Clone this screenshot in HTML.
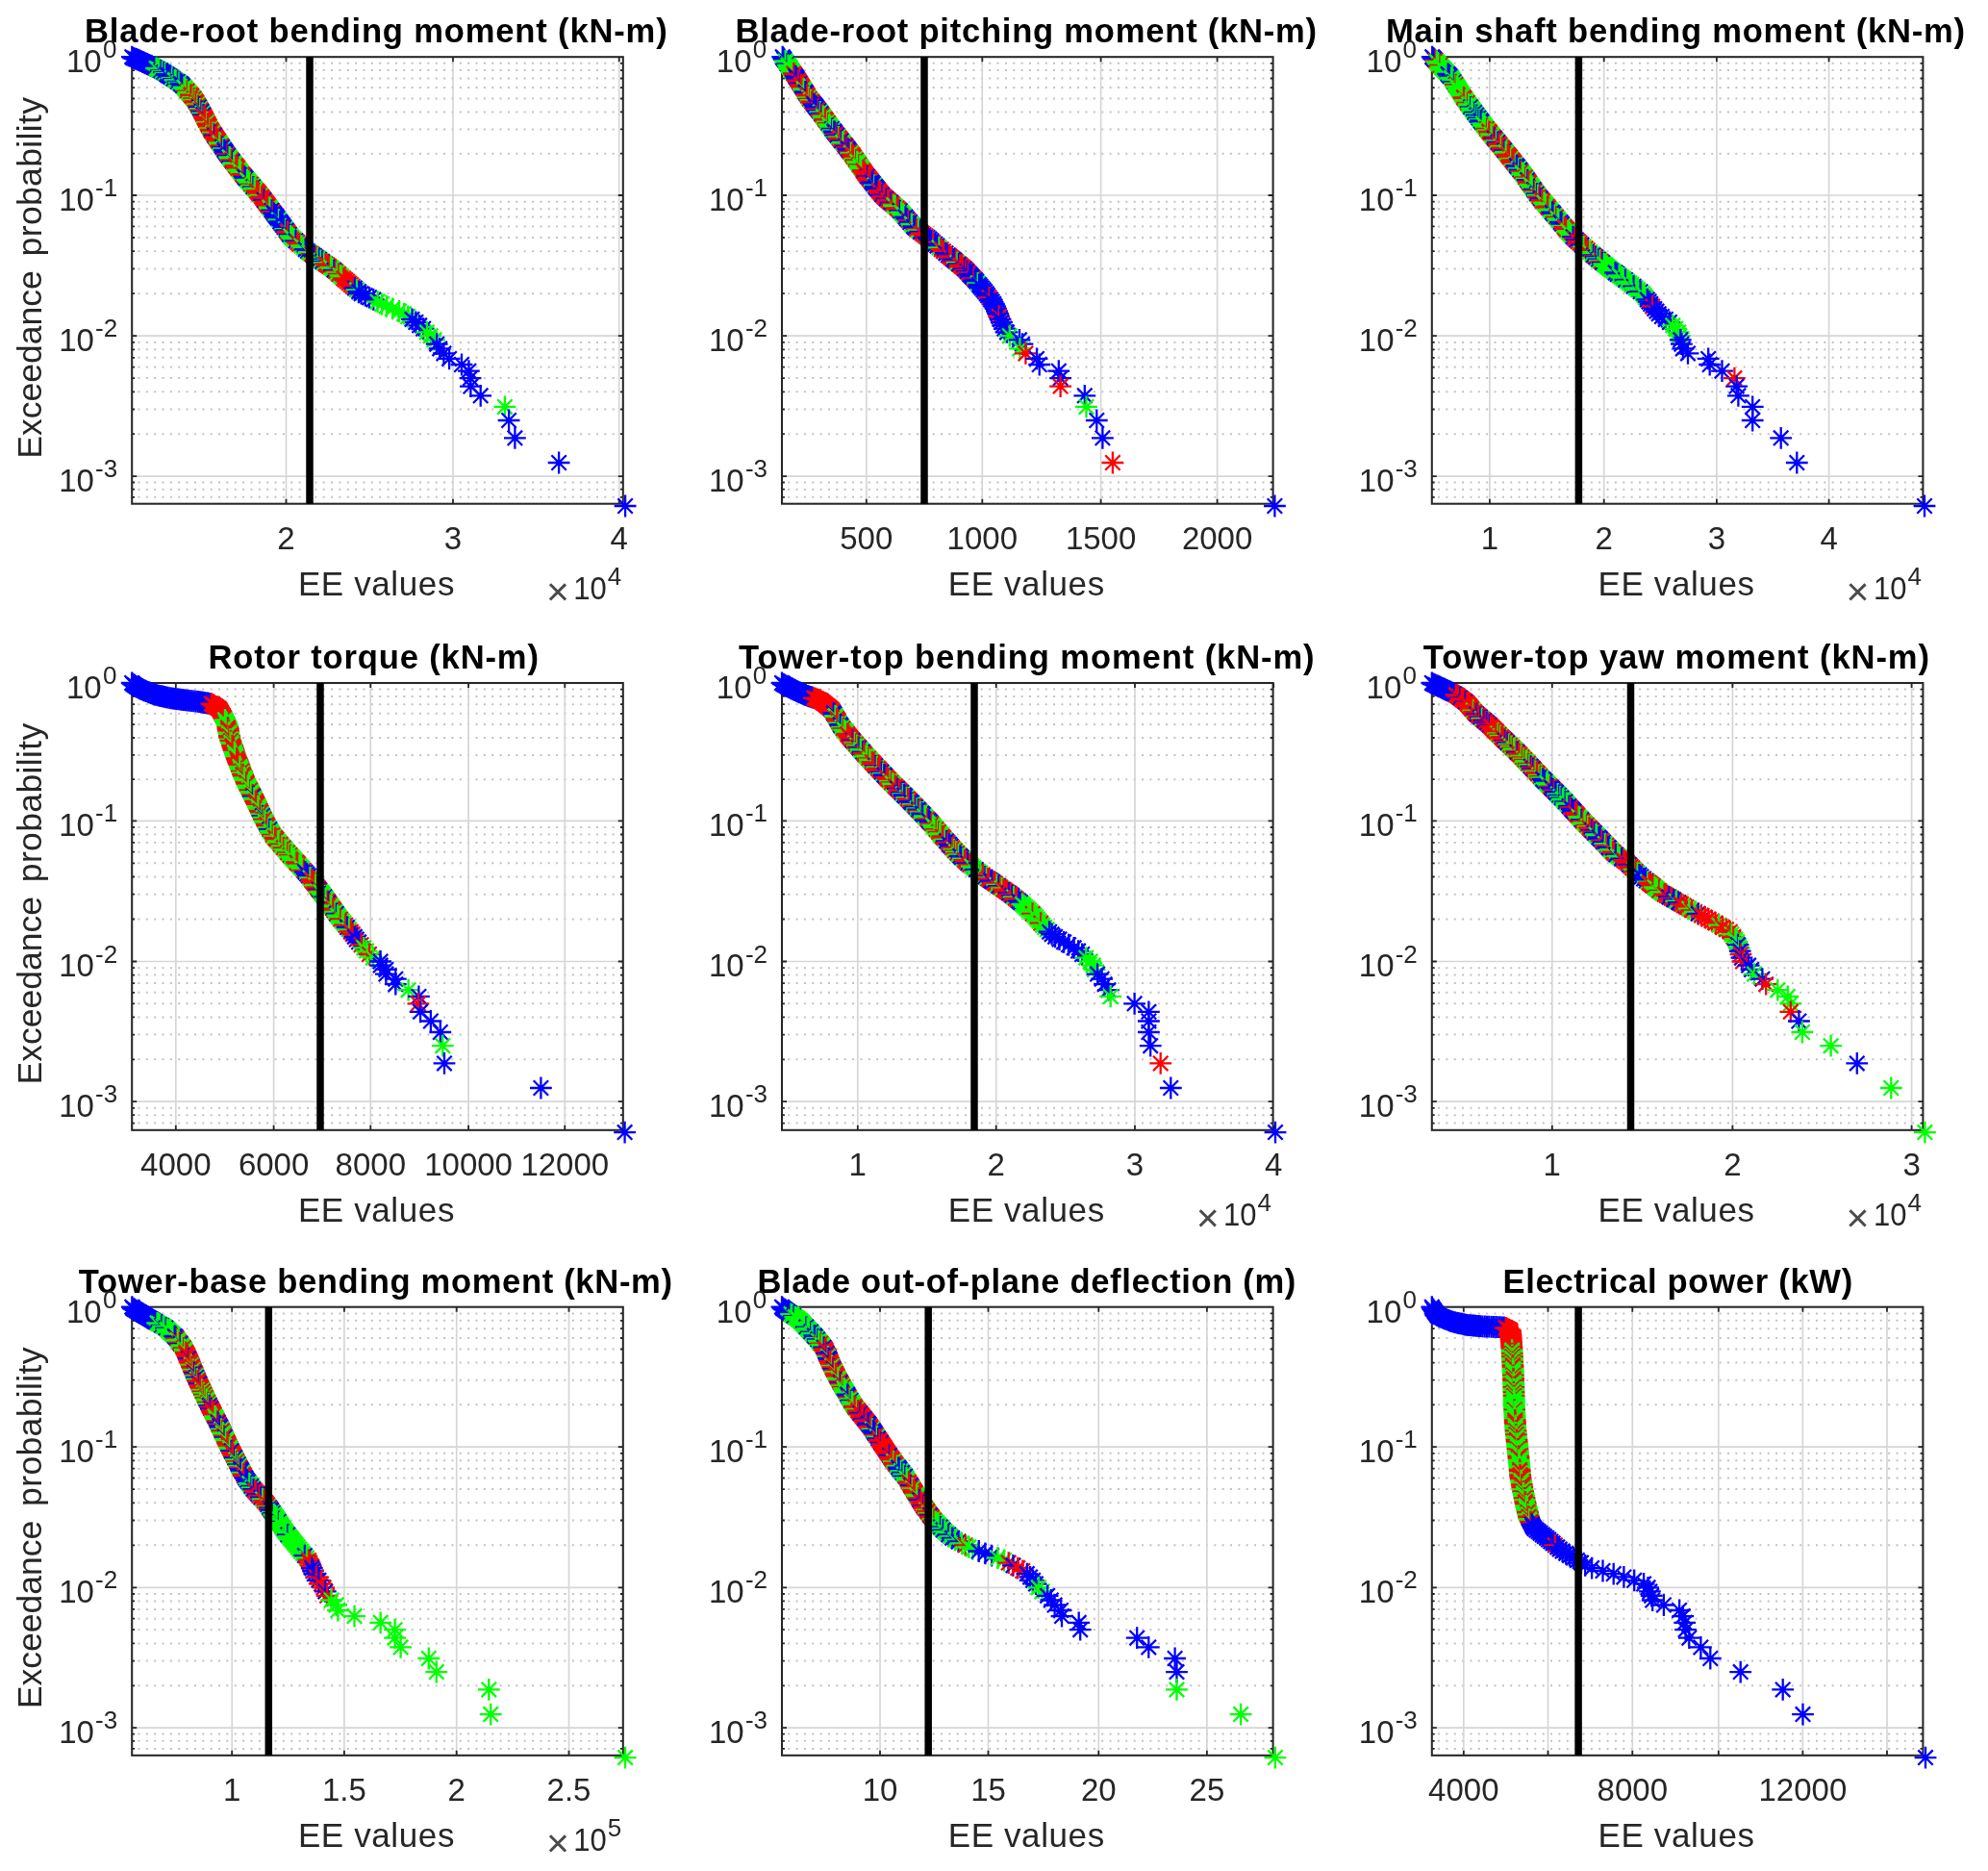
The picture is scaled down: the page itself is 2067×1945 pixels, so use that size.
<!DOCTYPE html>
<html><head><meta charset="utf-8"><title>Exceedance probability</title><style>html,body{margin:0;padding:0;background:#fff}svg{display:block;filter:blur(0.6px)}</style></head><body>
<svg width="2067" height="1945" viewBox="0 0 2067 1945" font-family="Liberation Sans, sans-serif">
<defs><path id="s" d="M-11.4 0H11.4M0-11.4V11.4M-7.7-7.7L7.7 7.7M-7.7 7.7L7.7-7.7" fill="none" stroke-width="2.3"/></defs>
<rect width="2067" height="1945" fill="#fff"/>
<g>
<path d="M143.4 159.7H644.8M143.4 134.4H644.8M143.4 116.4H644.8M143.4 102.5H644.8M143.4 91.1H644.8M143.4 81.5H644.8M143.4 73.1H644.8M143.4 65.8H644.8M143.4 305.2H644.8M143.4 279.4H644.8M143.4 261.2H644.8M143.4 247H644.8M143.4 235.4H644.8M143.4 225.6H644.8M143.4 217.2H644.8M143.4 209.7H644.8M143.4 451.2H644.8M143.4 425.5H644.8M143.4 407.3H644.8M143.4 393.1H644.8M143.4 381.6H644.8M143.4 371.8H644.8M143.4 363.3H644.8M143.4 355.9H644.8M143.4 516.8H644.8M143.4 508.7H644.8M143.4 501.5H644.8" stroke="#c2c2c2" stroke-width="2" stroke-dasharray="2 6.36" fill="none"/>
<path d="M137.2 203H647.8M137.2 349.2H647.8M137.2 495.1H647.8M297.5 59.2V523.7M471 59.2V523.7M643.7 59.2V523.7" stroke="#d6d6d6" stroke-width="1.7" fill="none"/>
<path d="M137.2 203h5M647.8 203h-5M137.2 349.2h5M647.8 349.2h-5M137.2 495.1h5M647.8 495.1h-5M137.2 159.7h2.9M647.8 159.7h-2.9M137.2 134.4h2.9M647.8 134.4h-2.9M137.2 116.4h2.9M647.8 116.4h-2.9M137.2 102.5h2.9M647.8 102.5h-2.9M137.2 91.1h2.9M647.8 91.1h-2.9M137.2 81.5h2.9M647.8 81.5h-2.9M137.2 73.1h2.9M647.8 73.1h-2.9M137.2 65.8h2.9M647.8 65.8h-2.9M137.2 305.2h2.9M647.8 305.2h-2.9M137.2 279.4h2.9M647.8 279.4h-2.9M137.2 261.2h2.9M647.8 261.2h-2.9M137.2 247h2.9M647.8 247h-2.9M137.2 235.4h2.9M647.8 235.4h-2.9M137.2 225.6h2.9M647.8 225.6h-2.9M137.2 217.2h2.9M647.8 217.2h-2.9M137.2 209.7h2.9M647.8 209.7h-2.9M137.2 451.2h2.9M647.8 451.2h-2.9M137.2 425.5h2.9M647.8 425.5h-2.9M137.2 407.3h2.9M647.8 407.3h-2.9M137.2 393.1h2.9M647.8 393.1h-2.9M137.2 381.6h2.9M647.8 381.6h-2.9M137.2 371.8h2.9M647.8 371.8h-2.9M137.2 363.3h2.9M647.8 363.3h-2.9M137.2 355.9h2.9M647.8 355.9h-2.9M137.2 516.8h2.9M647.8 516.8h-2.9M137.2 508.7h2.9M647.8 508.7h-2.9M137.2 501.5h2.9M647.8 501.5h-2.9M297.5 523.7v-5M297.5 59.2v5M471 523.7v-5M471 59.2v5M643.7 523.7v-5M643.7 59.2v5" stroke="#262626" stroke-width="1.8" fill="none"/>
<rect x="137.2" y="59.2" width="510.6" height="464.5" fill="none" stroke="#262626" stroke-width="2.05"/>
<g stroke="#0000ff"><use href="#s" x="137.3" y="59.2"/><use href="#s" x="138.7" y="60.3"/><use href="#s" x="140.3" y="60.9"/><use href="#s" x="141.9" y="61.5"/><use href="#s" x="143.6" y="62.2"/><use href="#s" x="145.2" y="62.9"/><use href="#s" x="146.8" y="63.6"/><use href="#s" x="148.4" y="64.4"/><use href="#s" x="150" y="65.1"/><use href="#s" x="151.5" y="65.8"/><use href="#s" x="153.1" y="66.6"/><use href="#s" x="154.7" y="67.3"/><use href="#s" x="156.4" y="68.1"/><use href="#s" x="157.9" y="68.8"/><use href="#s" x="159.5" y="69.5"/><use href="#s" x="161" y="70.3"/></g>
<g stroke="#00ff00"><use href="#s" x="162.6" y="71"/><use href="#s" x="164.3" y="71.8"/><use href="#s" x="165.9" y="72.6"/></g>
<g stroke="#0000ff"><use href="#s" x="167.4" y="73.3"/></g>
<g stroke="#00ff00"><use href="#s" x="168.9" y="74.2"/></g>
<g stroke="#0000ff"><use href="#s" x="170.4" y="75.2"/></g>
<g stroke="#00ff00"><use href="#s" x="171.8" y="76.2"/></g>
<g stroke="#0000ff"><use href="#s" x="173.3" y="77.2"/><use href="#s" x="174.7" y="78.2"/><use href="#s" x="176.1" y="79.1"/><use href="#s" x="177.6" y="80.1"/></g>
<g stroke="#00ff00"><use href="#s" x="179" y="81.1"/></g>
<g stroke="#0000ff"><use href="#s" x="180.5" y="82.1"/></g>
<g stroke="#00ff00"><use href="#s" x="181.9" y="83.1"/><use href="#s" x="183.4" y="84"/></g>
<g stroke="#0000ff"><use href="#s" x="184.9" y="85"/></g>
<g stroke="#00ff00"><use href="#s" x="186.4" y="86"/></g>
<g stroke="#0000ff"><use href="#s" x="187.8" y="87"/><use href="#s" x="189.2" y="88.1"/><use href="#s" x="190.3" y="89.4"/></g>
<g stroke="#00ff00"><use href="#s" x="191.5" y="90.7"/><use href="#s" x="192.6" y="92"/><use href="#s" x="193.8" y="93.4"/></g>
<g stroke="#ff0000"><use href="#s" x="194.9" y="94.6"/></g>
<g stroke="#00ff00"><use href="#s" x="196.1" y="96"/><use href="#s" x="197.2" y="97.2"/></g>
<g stroke="#ff0000"><use href="#s" x="198.4" y="98.6"/><use href="#s" x="199.5" y="99.9"/></g>
<g stroke="#00ff00"><use href="#s" x="200.7" y="101.2"/></g>
<g stroke="#ff0000"><use href="#s" x="201.8" y="102.5"/></g>
<g stroke="#00ff00"><use href="#s" x="202.8" y="104"/></g>
<g stroke="#ff0000"><use href="#s" x="203.7" y="105.5"/><use href="#s" x="204.6" y="107"/></g>
<g stroke="#00ff00"><use href="#s" x="205.4" y="108.5"/></g>
<g stroke="#ff0000"><use href="#s" x="206.3" y="110"/></g>
<g stroke="#0000ff"><use href="#s" x="207.2" y="111.5"/></g>
<g stroke="#00ff00"><use href="#s" x="208.1" y="113.1"/></g>
<g stroke="#ff0000"><use href="#s" x="209" y="114.6"/></g>
<g stroke="#0000ff"><use href="#s" x="209.8" y="116.1"/></g>
<g stroke="#00ff00"><use href="#s" x="210.6" y="117.7"/></g>
<g stroke="#0000ff"><use href="#s" x="211.5" y="119.3"/></g>
<g stroke="#ff0000"><use href="#s" x="212.2" y="120.9"/><use href="#s" x="213" y="122.5"/><use href="#s" x="213.8" y="124"/><use href="#s" x="214.5" y="125.5"/></g>
<g stroke="#00ff00"><use href="#s" x="215.3" y="127.1"/></g>
<g stroke="#ff0000"><use href="#s" x="216.1" y="128.7"/><use href="#s" x="216.9" y="130.2"/><use href="#s" x="217.7" y="131.8"/></g>
<g stroke="#00ff00"><use href="#s" x="218.5" y="133.5"/></g>
<g stroke="#ff0000"><use href="#s" x="219.4" y="135"/><use href="#s" x="220.3" y="136.5"/></g>
<g stroke="#00ff00"><use href="#s" x="221.3" y="138"/></g>
<g stroke="#ff0000"><use href="#s" x="222.4" y="139.5"/></g>
<g stroke="#0000ff"><use href="#s" x="223.3" y="141"/></g>
<g stroke="#ff0000"><use href="#s" x="224.3" y="142.4"/><use href="#s" x="225.3" y="143.9"/><use href="#s" x="226.3" y="145.5"/><use href="#s" x="227.4" y="147"/></g>
<g stroke="#00ff00"><use href="#s" x="228.3" y="148.5"/><use href="#s" x="229.3" y="150"/></g>
<g stroke="#ff0000"><use href="#s" x="230.3" y="151.5"/></g>
<g stroke="#0000ff"><use href="#s" x="231.4" y="153.1"/></g>
<g stroke="#00ff00"><use href="#s" x="232.3" y="154.5"/></g>
<g stroke="#0000ff"><use href="#s" x="233.3" y="155.9"/><use href="#s" x="234.3" y="157.4"/><use href="#s" x="235.3" y="158.9"/></g>
<g stroke="#ff0000"><use href="#s" x="236.4" y="160.5"/></g>
<g stroke="#0000ff"><use href="#s" x="237.5" y="161.9"/></g>
<g stroke="#00ff00"><use href="#s" x="238.6" y="163.3"/><use href="#s" x="239.7" y="164.8"/></g>
<g stroke="#ff0000"><use href="#s" x="240.8" y="166.3"/></g>
<g stroke="#0000ff"><use href="#s" x="242" y="167.8"/></g>
<g stroke="#00ff00"><use href="#s" x="243.2" y="169.4"/><use href="#s" x="244.2" y="170.8"/></g>
<g stroke="#ff0000"><use href="#s" x="245.3" y="172.2"/><use href="#s" x="246.4" y="173.6"/><use href="#s" x="247.5" y="175.1"/></g>
<g stroke="#00ff00"><use href="#s" x="248.7" y="176.6"/><use href="#s" x="249.9" y="178.2"/><use href="#s" x="251.1" y="179.8"/></g>
<g stroke="#ff0000"><use href="#s" x="252.1" y="181.2"/><use href="#s" x="253.3" y="182.5"/></g>
<g stroke="#0000ff"><use href="#s" x="254.5" y="184"/><use href="#s" x="255.8" y="185.4"/></g>
<g stroke="#00ff00"><use href="#s" x="257" y="186.9"/><use href="#s" x="258.4" y="188.4"/><use href="#s" x="259.7" y="190"/></g>
<g stroke="#ff0000"><use href="#s" x="261.1" y="191.6"/></g>
<g stroke="#00ff00"><use href="#s" x="262.2" y="192.9"/></g>
<g stroke="#0000ff"><use href="#s" x="263.4" y="194.3"/></g>
<g stroke="#00ff00"><use href="#s" x="264.6" y="195.6"/><use href="#s" x="265.8" y="197"/></g>
<g stroke="#ff0000"><use href="#s" x="267" y="198.5"/><use href="#s" x="268.3" y="200"/><use href="#s" x="269.6" y="201.5"/></g>
<g stroke="#00ff00"><use href="#s" x="270.9" y="203"/></g>
<g stroke="#ff0000"><use href="#s" x="272.1" y="204.6"/><use href="#s" x="273.4" y="206.3"/></g>
<g stroke="#0000ff"><use href="#s" x="274.6" y="208"/></g>
<g stroke="#ff0000"><use href="#s" x="275.9" y="209.7"/><use href="#s" x="277.2" y="211.5"/><use href="#s" x="278.3" y="212.9"/><use href="#s" x="279.3" y="214.3"/></g>
<g stroke="#00ff00"><use href="#s" x="280.4" y="215.7"/><use href="#s" x="281.5" y="217.2"/></g>
<g stroke="#0000ff"><use href="#s" x="282.6" y="218.7"/></g>
<g stroke="#ff0000"><use href="#s" x="283.7" y="220.2"/></g>
<g stroke="#0000ff"><use href="#s" x="284.9" y="221.8"/><use href="#s" x="286.1" y="223.4"/><use href="#s" x="287.3" y="225.1"/><use href="#s" x="288.6" y="226.8"/></g>
<g stroke="#00ff00"><use href="#s" x="289.9" y="228.5"/></g>
<g stroke="#0000ff"><use href="#s" x="291.2" y="230.4"/><use href="#s" x="292.6" y="232.2"/><use href="#s" x="294" y="234.1"/><use href="#s" x="295.4" y="236.1"/></g>
<g stroke="#00ff00"><use href="#s" x="296.9" y="238.1"/></g>
<g stroke="#0000ff"><use href="#s" x="297.9" y="239.5"/></g>
<g stroke="#ff0000"><use href="#s" x="299" y="241"/><use href="#s" x="300" y="242.4"/></g>
<g stroke="#0000ff"><use href="#s" x="301.1" y="243.9"/></g>
<g stroke="#00ff00"><use href="#s" x="302.2" y="245.4"/><use href="#s" x="303.7" y="247"/><use href="#s" x="305.6" y="248.6"/></g>
<g stroke="#0000ff"><use href="#s" x="307.5" y="250.3"/></g>
<g stroke="#ff0000"><use href="#s" x="309.4" y="252"/><use href="#s" x="311.4" y="253.7"/></g>
<g stroke="#00ff00"><use href="#s" x="313.4" y="255.5"/><use href="#s" x="315.6" y="257.3"/></g>
<g stroke="#0000ff"><use href="#s" x="317.7" y="259.2"/><use href="#s" x="320" y="261.2"/></g>
<g stroke="#00ff00"><use href="#s" x="321.3" y="262.2"/><use href="#s" x="322.8" y="263.2"/></g>
<g stroke="#ff0000"><use href="#s" x="324.3" y="264.2"/></g>
<g stroke="#0000ff"><use href="#s" x="325.7" y="265.3"/><use href="#s" x="327.3" y="266.3"/></g>
<g stroke="#ff0000"><use href="#s" x="328.8" y="267.4"/></g>
<g stroke="#00ff00"><use href="#s" x="330.4" y="268.5"/></g>
<g stroke="#0000ff"><use href="#s" x="332" y="269.7"/></g>
<g stroke="#00ff00"><use href="#s" x="333.6" y="270.8"/></g>
<g stroke="#0000ff"><use href="#s" x="335.2" y="272"/></g>
<g stroke="#00ff00"><use href="#s" x="336.9" y="273.2"/></g>
<g stroke="#ff0000"><use href="#s" x="338.6" y="274.4"/><use href="#s" x="340.4" y="275.6"/><use href="#s" x="342.2" y="276.9"/></g>
<g stroke="#00ff00"><use href="#s" x="344" y="278.1"/><use href="#s" x="345.9" y="279.4"/></g>
<g stroke="#0000ff"><use href="#s" x="347.4" y="280.8"/></g>
<g stroke="#ff0000"><use href="#s" x="349" y="282.1"/></g>
<g stroke="#00ff00"><use href="#s" x="350.6" y="283.5"/></g>
<g stroke="#ff0000"><use href="#s" x="352.2" y="285"/></g>
<g stroke="#00ff00"><use href="#s" x="353.9" y="286.4"/><use href="#s" x="355.6" y="287.9"/></g>
<g stroke="#ff0000"><use href="#s" x="357.3" y="289.5"/><use href="#s" x="359.1" y="291"/><use href="#s" x="361" y="292.6"/><use href="#s" x="362.9" y="294.3"/><use href="#s" x="364.8" y="296"/><use href="#s" x="366.8" y="297.7"/></g>
<g stroke="#0000ff"><use href="#s" x="368.9" y="299.5"/></g>
<g stroke="#00ff00"><use href="#s" x="371" y="301.3"/></g>
<g stroke="#0000ff"><use href="#s" x="373.2" y="303.2"/><use href="#s" x="375.6" y="305.2"/><use href="#s" x="379.8" y="307.2"/><use href="#s" x="384.1" y="309.3"/><use href="#s" x="388.3" y="311.4"/></g>
<g stroke="#00ff00"><use href="#s" x="392.6" y="313.7"/><use href="#s" x="397.1" y="316"/><use href="#s" x="401.8" y="318.4"/><use href="#s" x="408.2" y="320.9"/><use href="#s" x="415" y="323.5"/><use href="#s" x="420.1" y="326.2"/><use href="#s" x="424.2" y="329"/></g>
<g stroke="#0000ff"><use href="#s" x="428.5" y="331.9"/><use href="#s" x="432.4" y="335"/><use href="#s" x="436.2" y="338.3"/><use href="#s" x="440.2" y="341.7"/></g>
<g stroke="#00ff00"><use href="#s" x="443.9" y="345.4"/><use href="#s" x="447.7" y="349.2"/><use href="#s" x="451.5" y="353.3"/></g>
<g stroke="#0000ff"><use href="#s" x="454.2" y="357.7"/><use href="#s" x="457.2" y="362.4"/><use href="#s" x="461.4" y="367.4"/><use href="#s" x="467.1" y="372.9"/><use href="#s" x="480" y="379"/><use href="#s" x="487.4" y="385.7"/><use href="#s" x="489" y="393.1"/><use href="#s" x="489.4" y="401.6"/><use href="#s" x="499.7" y="411.3"/></g>
<g stroke="#00ff00"><use href="#s" x="524.9" y="422.9"/></g>
<g stroke="#0000ff"><use href="#s" x="529.1" y="437"/><use href="#s" x="535.4" y="455.3"/><use href="#s" x="581.1" y="481"/><use href="#s" x="650.1" y="526"/></g>
<line x1="322" y1="59.2" x2="322" y2="523.7" stroke="#000" stroke-width="7.5"/>
<text x="88" y="44.1" font-size="34.6" font-weight="bold" fill="#000" textLength="605.7" lengthAdjust="spacing">Blade-root bending moment (kN-m)</text>
<text x="297.5" y="571" font-size="33" fill="#262626" text-anchor="middle">2</text>
<text x="471" y="571" font-size="33" fill="#262626" text-anchor="middle">3</text>
<text x="643.7" y="571" font-size="33" fill="#262626" text-anchor="middle">4</text>
<text x="105.7" y="75" font-size="33" fill="#262626" text-anchor="end">10</text>
<text x="106.9" y="60.2" font-size="26" fill="#262626">0</text>
<text x="97.9" y="218.8" font-size="33" fill="#262626" text-anchor="end">10</text>
<text x="99.1" y="204" font-size="26" fill="#262626">-1</text>
<text x="97.9" y="365" font-size="33" fill="#262626" text-anchor="end">10</text>
<text x="99.1" y="350.2" font-size="26" fill="#262626">-2</text>
<text x="97.9" y="510.9" font-size="33" fill="#262626" text-anchor="end">10</text>
<text x="99.1" y="496.1" font-size="26" fill="#262626">-3</text>
<text x="309.9" y="618.7" font-size="35" fill="#262626" textLength="162.5" lengthAdjust="spacing">EE values</text>
<text x="580" y="628.7" font-size="41" fill="#4a4a4a" text-anchor="middle">×</text>
<text x="630.8" y="622.7" font-size="33" fill="#262626" text-anchor="end" textLength="34.5" lengthAdjust="spacingAndGlyphs">10</text>
<text x="631.8" y="607.7" font-size="26" fill="#262626">4</text>
<text transform="translate(43.4 476.7) rotate(-90)" font-size="35.5" fill="#262626" textLength="195.4" lengthAdjust="spacing">Exceedance</text>
<text transform="translate(43.4 266.4) rotate(-90)" font-size="35.5" fill="#262626" textLength="165.5" lengthAdjust="spacing">probability</text>
</g>
<g>
<path d="M819.2 159.7H1320.6M819.2 134.4H1320.6M819.2 116.4H1320.6M819.2 102.5H1320.6M819.2 91.1H1320.6M819.2 81.5H1320.6M819.2 73.1H1320.6M819.2 65.8H1320.6M819.2 305.2H1320.6M819.2 279.4H1320.6M819.2 261.2H1320.6M819.2 247H1320.6M819.2 235.4H1320.6M819.2 225.6H1320.6M819.2 217.2H1320.6M819.2 209.7H1320.6M819.2 451.2H1320.6M819.2 425.5H1320.6M819.2 407.3H1320.6M819.2 393.1H1320.6M819.2 381.6H1320.6M819.2 371.8H1320.6M819.2 363.3H1320.6M819.2 355.9H1320.6M819.2 516.8H1320.6M819.2 508.7H1320.6M819.2 501.5H1320.6" stroke="#c2c2c2" stroke-width="2" stroke-dasharray="2 6.36" fill="none"/>
<path d="M813 203H1323.6M813 349.2H1323.6M813 495.1H1323.6M900.8 59.2V523.7M1021.3 59.2V523.7M1144.6 59.2V523.7M1265.6 59.2V523.7" stroke="#d6d6d6" stroke-width="1.7" fill="none"/>
<path d="M813 203h5M1323.6 203h-5M813 349.2h5M1323.6 349.2h-5M813 495.1h5M1323.6 495.1h-5M813 159.7h2.9M1323.6 159.7h-2.9M813 134.4h2.9M1323.6 134.4h-2.9M813 116.4h2.9M1323.6 116.4h-2.9M813 102.5h2.9M1323.6 102.5h-2.9M813 91.1h2.9M1323.6 91.1h-2.9M813 81.5h2.9M1323.6 81.5h-2.9M813 73.1h2.9M1323.6 73.1h-2.9M813 65.8h2.9M1323.6 65.8h-2.9M813 305.2h2.9M1323.6 305.2h-2.9M813 279.4h2.9M1323.6 279.4h-2.9M813 261.2h2.9M1323.6 261.2h-2.9M813 247h2.9M1323.6 247h-2.9M813 235.4h2.9M1323.6 235.4h-2.9M813 225.6h2.9M1323.6 225.6h-2.9M813 217.2h2.9M1323.6 217.2h-2.9M813 209.7h2.9M1323.6 209.7h-2.9M813 451.2h2.9M1323.6 451.2h-2.9M813 425.5h2.9M1323.6 425.5h-2.9M813 407.3h2.9M1323.6 407.3h-2.9M813 393.1h2.9M1323.6 393.1h-2.9M813 381.6h2.9M1323.6 381.6h-2.9M813 371.8h2.9M1323.6 371.8h-2.9M813 363.3h2.9M1323.6 363.3h-2.9M813 355.9h2.9M1323.6 355.9h-2.9M813 516.8h2.9M1323.6 516.8h-2.9M813 508.7h2.9M1323.6 508.7h-2.9M813 501.5h2.9M1323.6 501.5h-2.9M900.8 523.7v-5M900.8 59.2v5M1021.3 523.7v-5M1021.3 59.2v5M1144.6 523.7v-5M1144.6 59.2v5M1265.6 523.7v-5M1265.6 59.2v5" stroke="#262626" stroke-width="1.8" fill="none"/>
<rect x="813" y="59.2" width="510.6" height="464.5" fill="none" stroke="#262626" stroke-width="2.05"/>
<g stroke="#0000ff"><use href="#s" x="813.7" y="59.2"/><use href="#s" x="814.7" y="60.6"/><use href="#s" x="815.6" y="62"/></g>
<g stroke="#00ff00"><use href="#s" x="816.6" y="63.5"/><use href="#s" x="817.6" y="64.9"/></g>
<g stroke="#0000ff"><use href="#s" x="818.6" y="66.3"/></g>
<g stroke="#00ff00"><use href="#s" x="819.5" y="67.8"/><use href="#s" x="820.5" y="69.2"/><use href="#s" x="821.5" y="70.6"/><use href="#s" x="822.4" y="72.1"/><use href="#s" x="823.4" y="73.5"/><use href="#s" x="824.4" y="75"/></g>
<g stroke="#ff0000"><use href="#s" x="825.3" y="76.4"/><use href="#s" x="826.3" y="77.8"/></g>
<g stroke="#0000ff"><use href="#s" x="827.3" y="79.3"/><use href="#s" x="828.2" y="80.8"/><use href="#s" x="829.1" y="82.2"/></g>
<g stroke="#ff0000"><use href="#s" x="830.1" y="83.7"/><use href="#s" x="831" y="85.1"/></g>
<g stroke="#0000ff"><use href="#s" x="831.9" y="86.6"/></g>
<g stroke="#ff0000"><use href="#s" x="832.8" y="88.1"/><use href="#s" x="833.7" y="89.6"/><use href="#s" x="834.7" y="91.1"/></g>
<g stroke="#00ff00"><use href="#s" x="835.6" y="92.5"/><use href="#s" x="836.5" y="94"/></g>
<g stroke="#0000ff"><use href="#s" x="837.4" y="95.5"/><use href="#s" x="838.3" y="97"/></g>
<g stroke="#ff0000"><use href="#s" x="839.2" y="98.4"/><use href="#s" x="840.1" y="99.9"/></g>
<g stroke="#00ff00"><use href="#s" x="841" y="101.4"/></g>
<g stroke="#ff0000"><use href="#s" x="842" y="102.9"/></g>
<g stroke="#00ff00"><use href="#s" x="843" y="104.2"/></g>
<g stroke="#ff0000"><use href="#s" x="844.2" y="105.6"/><use href="#s" x="845.2" y="106.9"/></g>
<g stroke="#0000ff"><use href="#s" x="846.3" y="108.3"/><use href="#s" x="847.4" y="109.7"/><use href="#s" x="848.5" y="111"/><use href="#s" x="849.6" y="112.4"/></g>
<g stroke="#ff0000"><use href="#s" x="850.7" y="113.7"/></g>
<g stroke="#0000ff"><use href="#s" x="851.8" y="115.2"/></g>
<g stroke="#00ff00"><use href="#s" x="852.9" y="116.5"/></g>
<g stroke="#0000ff"><use href="#s" x="853.9" y="118"/></g>
<g stroke="#ff0000"><use href="#s" x="854.9" y="119.4"/></g>
<g stroke="#00ff00"><use href="#s" x="856" y="120.9"/><use href="#s" x="857" y="122.4"/></g>
<g stroke="#ff0000"><use href="#s" x="858" y="123.8"/><use href="#s" x="859" y="125.2"/></g>
<g stroke="#00ff00"><use href="#s" x="860.1" y="126.7"/></g>
<g stroke="#ff0000"><use href="#s" x="861.1" y="128.1"/></g>
<g stroke="#00ff00"><use href="#s" x="862.1" y="129.5"/><use href="#s" x="863.1" y="131"/><use href="#s" x="864.2" y="132.5"/></g>
<g stroke="#0000ff"><use href="#s" x="865.2" y="133.9"/></g>
<g stroke="#00ff00"><use href="#s" x="866.2" y="135.3"/></g>
<g stroke="#0000ff"><use href="#s" x="867.3" y="136.6"/><use href="#s" x="868.4" y="138"/></g>
<g stroke="#ff0000"><use href="#s" x="869.5" y="139.4"/></g>
<g stroke="#0000ff"><use href="#s" x="870.6" y="140.8"/></g>
<g stroke="#00ff00"><use href="#s" x="871.8" y="142.3"/></g>
<g stroke="#ff0000"><use href="#s" x="872.8" y="143.6"/><use href="#s" x="873.9" y="145"/></g>
<g stroke="#0000ff"><use href="#s" x="875" y="146.4"/></g>
<g stroke="#00ff00"><use href="#s" x="876.2" y="147.8"/><use href="#s" x="877.3" y="149.3"/></g>
<g stroke="#ff0000"><use href="#s" x="878.4" y="150.6"/></g>
<g stroke="#0000ff"><use href="#s" x="879.5" y="152"/></g>
<g stroke="#ff0000"><use href="#s" x="880.6" y="153.4"/></g>
<g stroke="#0000ff"><use href="#s" x="881.7" y="154.8"/><use href="#s" x="882.8" y="156.3"/></g>
<g stroke="#ff0000"><use href="#s" x="884" y="157.8"/></g>
<g stroke="#00ff00"><use href="#s" x="885.1" y="159.1"/></g>
<g stroke="#ff0000"><use href="#s" x="886.2" y="160.7"/><use href="#s" x="887.1" y="162.1"/><use href="#s" x="888.1" y="163.5"/></g>
<g stroke="#00ff00"><use href="#s" x="889.1" y="165"/></g>
<g stroke="#ff0000"><use href="#s" x="890.2" y="166.5"/></g>
<g stroke="#00ff00"><use href="#s" x="891.2" y="168.1"/><use href="#s" x="892.3" y="169.6"/></g>
<g stroke="#ff0000"><use href="#s" x="893.4" y="171.3"/></g>
<g stroke="#00ff00"><use href="#s" x="894.4" y="172.7"/><use href="#s" x="895.4" y="174.1"/><use href="#s" x="896.4" y="175.6"/></g>
<g stroke="#ff0000"><use href="#s" x="897.5" y="177.2"/><use href="#s" x="898.5" y="178.7"/><use href="#s" x="899.6" y="180.3"/><use href="#s" x="900.8" y="182"/></g>
<g stroke="#0000ff"><use href="#s" x="902" y="183.4"/></g>
<g stroke="#ff0000"><use href="#s" x="903.1" y="184.8"/><use href="#s" x="904.3" y="186.3"/><use href="#s" x="905.5" y="187.8"/></g>
<g stroke="#0000ff"><use href="#s" x="906.7" y="189.4"/><use href="#s" x="908" y="191"/></g>
<g stroke="#00ff00"><use href="#s" x="909.3" y="192.6"/></g>
<g stroke="#0000ff"><use href="#s" x="910.3" y="193.9"/><use href="#s" x="911.4" y="195.3"/><use href="#s" x="912.5" y="196.7"/></g>
<g stroke="#ff0000"><use href="#s" x="913.7" y="198.1"/><use href="#s" x="914.8" y="199.6"/><use href="#s" x="916" y="201.1"/></g>
<g stroke="#0000ff"><use href="#s" x="917.2" y="202.6"/></g>
<g stroke="#ff0000"><use href="#s" x="918.9" y="204.2"/><use href="#s" x="920.3" y="205.4"/></g>
<g stroke="#0000ff"><use href="#s" x="921.7" y="206.7"/></g>
<g stroke="#ff0000"><use href="#s" x="923.2" y="208"/><use href="#s" x="924.7" y="209.3"/></g>
<g stroke="#0000ff"><use href="#s" x="926.2" y="210.6"/></g>
<g stroke="#ff0000"><use href="#s" x="927.8" y="211.9"/></g>
<g stroke="#00ff00"><use href="#s" x="929.4" y="213.3"/><use href="#s" x="931" y="214.7"/></g>
<g stroke="#ff0000"><use href="#s" x="932.7" y="216.2"/><use href="#s" x="934.4" y="217.7"/></g>
<g stroke="#0000ff"><use href="#s" x="935.9" y="219.2"/></g>
<g stroke="#00ff00"><use href="#s" x="937.2" y="220.7"/><use href="#s" x="938.6" y="222.3"/><use href="#s" x="940" y="224"/></g>
<g stroke="#0000ff"><use href="#s" x="941.5" y="225.6"/><use href="#s" x="943" y="227.4"/></g>
<g stroke="#ff0000"><use href="#s" x="944.6" y="229.1"/></g>
<g stroke="#0000ff"><use href="#s" x="946.2" y="231"/></g>
<g stroke="#00ff00"><use href="#s" x="947.8" y="232.8"/><use href="#s" x="948.9" y="234.1"/></g>
<g stroke="#0000ff"><use href="#s" x="950.1" y="235.4"/><use href="#s" x="951.4" y="236.8"/></g>
<g stroke="#ff0000"><use href="#s" x="953.1" y="238.1"/></g>
<g stroke="#00ff00"><use href="#s" x="955" y="239.5"/></g>
<g stroke="#0000ff"><use href="#s" x="956.8" y="241"/></g>
<g stroke="#ff0000"><use href="#s" x="958.7" y="242.4"/><use href="#s" x="960.6" y="243.9"/><use href="#s" x="962.6" y="245.4"/></g>
<g stroke="#0000ff"><use href="#s" x="964.6" y="247"/><use href="#s" x="966.5" y="248.6"/><use href="#s" x="968.4" y="250.3"/></g>
<g stroke="#ff0000"><use href="#s" x="970.3" y="252"/></g>
<g stroke="#0000ff"><use href="#s" x="972.3" y="253.7"/><use href="#s" x="974.4" y="255.5"/></g>
<g stroke="#00ff00"><use href="#s" x="976.5" y="257.3"/></g>
<g stroke="#ff0000"><use href="#s" x="978.7" y="259.2"/><use href="#s" x="981" y="261.2"/></g>
<g stroke="#0000ff"><use href="#s" x="983.4" y="263.2"/><use href="#s" x="985.9" y="265.3"/></g>
<g stroke="#ff0000"><use href="#s" x="987.2" y="266.3"/><use href="#s" x="988.5" y="267.4"/><use href="#s" x="989.9" y="268.5"/></g>
<g stroke="#0000ff"><use href="#s" x="991.2" y="269.7"/><use href="#s" x="992.6" y="270.8"/></g>
<g stroke="#ff0000"><use href="#s" x="994" y="272"/></g>
<g stroke="#00ff00"><use href="#s" x="995.4" y="273.2"/></g>
<g stroke="#0000ff"><use href="#s" x="996.9" y="274.4"/></g>
<g stroke="#ff0000"><use href="#s" x="998.4" y="275.6"/><use href="#s" x="999.9" y="276.9"/><use href="#s" x="1001.5" y="278.1"/></g>
<g stroke="#0000ff"><use href="#s" x="1003" y="279.4"/></g>
<g stroke="#ff0000"><use href="#s" x="1004.3" y="280.8"/></g>
<g stroke="#0000ff"><use href="#s" x="1005.6" y="282.1"/></g>
<g stroke="#ff0000"><use href="#s" x="1006.9" y="283.5"/></g>
<g stroke="#0000ff"><use href="#s" x="1008.2" y="285"/><use href="#s" x="1009.6" y="286.4"/><use href="#s" x="1011" y="287.9"/></g>
<g stroke="#ff0000"><use href="#s" x="1012.5" y="289.5"/></g>
<g stroke="#0000ff"><use href="#s" x="1013.9" y="291"/><use href="#s" x="1015.3" y="292.6"/></g>
<g stroke="#00ff00"><use href="#s" x="1016.7" y="294.3"/></g>
<g stroke="#0000ff"><use href="#s" x="1018.1" y="296"/><use href="#s" x="1019.5" y="297.7"/><use href="#s" x="1021" y="299.5"/><use href="#s" x="1022.6" y="301.3"/><use href="#s" x="1024.1" y="303.2"/><use href="#s" x="1025.7" y="305.2"/><use href="#s" x="1027.1" y="307.2"/></g>
<g stroke="#ff0000"><use href="#s" x="1028.6" y="309.3"/></g>
<g stroke="#0000ff"><use href="#s" x="1030.1" y="311.4"/><use href="#s" x="1031.7" y="313.7"/><use href="#s" x="1033.3" y="316"/><use href="#s" x="1034.5" y="318.4"/><use href="#s" x="1035.5" y="320.9"/><use href="#s" x="1036.5" y="323.5"/><use href="#s" x="1037.6" y="326.2"/></g>
<g stroke="#ff0000"><use href="#s" x="1038.7" y="329"/></g>
<g stroke="#0000ff"><use href="#s" x="1040" y="331.9"/><use href="#s" x="1041.3" y="335"/><use href="#s" x="1042.7" y="338.3"/><use href="#s" x="1044.4" y="341.7"/><use href="#s" x="1047" y="345.4"/></g>
<g stroke="#00ff00"><use href="#s" x="1049.8" y="349.2"/></g>
<g stroke="#0000ff"><use href="#s" x="1060" y="353.3"/><use href="#s" x="1063" y="357.7"/></g>
<g stroke="#00ff00"><use href="#s" x="1060.4" y="362.4"/></g>
<g stroke="#ff0000"><use href="#s" x="1066.4" y="367.4"/></g>
<g stroke="#0000ff"><use href="#s" x="1078" y="372.9"/><use href="#s" x="1080.7" y="379"/><use href="#s" x="1100.8" y="385.7"/><use href="#s" x="1102.6" y="393.1"/></g>
<g stroke="#ff0000"><use href="#s" x="1102.6" y="401.6"/></g>
<g stroke="#0000ff"><use href="#s" x="1127.8" y="411.3"/></g>
<g stroke="#00ff00"><use href="#s" x="1129.5" y="422.9"/></g>
<g stroke="#0000ff"><use href="#s" x="1140.3" y="437"/><use href="#s" x="1146.4" y="455.3"/></g>
<g stroke="#ff0000"><use href="#s" x="1156.9" y="481"/></g>
<g stroke="#0000ff"><use href="#s" x="1325.4" y="526"/></g>
<line x1="961" y1="59.2" x2="961" y2="523.7" stroke="#000" stroke-width="7.5"/>
<text x="764.5" y="44.1" font-size="34.6" font-weight="bold" fill="#000" textLength="604.6" lengthAdjust="spacing">Blade-root pitching moment (kN-m)</text>
<text x="900.8" y="571" font-size="33" fill="#262626" text-anchor="middle">500</text>
<text x="1021.3" y="571" font-size="33" fill="#262626" text-anchor="middle">1000</text>
<text x="1144.6" y="571" font-size="33" fill="#262626" text-anchor="middle">1500</text>
<text x="1265.6" y="571" font-size="33" fill="#262626" text-anchor="middle">2000</text>
<text x="781.5" y="75" font-size="33" fill="#262626" text-anchor="end">10</text>
<text x="782.7" y="60.2" font-size="26" fill="#262626">0</text>
<text x="773.7" y="218.8" font-size="33" fill="#262626" text-anchor="end">10</text>
<text x="774.9" y="204" font-size="26" fill="#262626">-1</text>
<text x="773.7" y="365" font-size="33" fill="#262626" text-anchor="end">10</text>
<text x="774.9" y="350.2" font-size="26" fill="#262626">-2</text>
<text x="773.7" y="510.9" font-size="33" fill="#262626" text-anchor="end">10</text>
<text x="774.9" y="496.1" font-size="26" fill="#262626">-3</text>
<text x="985.7" y="618.7" font-size="35" fill="#262626" textLength="162.5" lengthAdjust="spacing">EE values</text>
</g>
<g>
<path d="M1495 159.7H1996.4M1495 134.4H1996.4M1495 116.4H1996.4M1495 102.5H1996.4M1495 91.1H1996.4M1495 81.5H1996.4M1495 73.1H1996.4M1495 65.8H1996.4M1495 305.2H1996.4M1495 279.4H1996.4M1495 261.2H1996.4M1495 247H1996.4M1495 235.4H1996.4M1495 225.6H1996.4M1495 217.2H1996.4M1495 209.7H1996.4M1495 451.2H1996.4M1495 425.5H1996.4M1495 407.3H1996.4M1495 393.1H1996.4M1495 381.6H1996.4M1495 371.8H1996.4M1495 363.3H1996.4M1495 355.9H1996.4M1495 516.8H1996.4M1495 508.7H1996.4M1495 501.5H1996.4" stroke="#c2c2c2" stroke-width="2" stroke-dasharray="2 6.36" fill="none"/>
<path d="M1488.8 203H1999.4M1488.8 349.2H1999.4M1488.8 495.1H1999.4M1548.9 59.2V523.7M1667.7 59.2V523.7M1784.9 59.2V523.7M1901.6 59.2V523.7" stroke="#d6d6d6" stroke-width="1.7" fill="none"/>
<path d="M1488.8 203h5M1999.4 203h-5M1488.8 349.2h5M1999.4 349.2h-5M1488.8 495.1h5M1999.4 495.1h-5M1488.8 159.7h2.9M1999.4 159.7h-2.9M1488.8 134.4h2.9M1999.4 134.4h-2.9M1488.8 116.4h2.9M1999.4 116.4h-2.9M1488.8 102.5h2.9M1999.4 102.5h-2.9M1488.8 91.1h2.9M1999.4 91.1h-2.9M1488.8 81.5h2.9M1999.4 81.5h-2.9M1488.8 73.1h2.9M1999.4 73.1h-2.9M1488.8 65.8h2.9M1999.4 65.8h-2.9M1488.8 305.2h2.9M1999.4 305.2h-2.9M1488.8 279.4h2.9M1999.4 279.4h-2.9M1488.8 261.2h2.9M1999.4 261.2h-2.9M1488.8 247h2.9M1999.4 247h-2.9M1488.8 235.4h2.9M1999.4 235.4h-2.9M1488.8 225.6h2.9M1999.4 225.6h-2.9M1488.8 217.2h2.9M1999.4 217.2h-2.9M1488.8 209.7h2.9M1999.4 209.7h-2.9M1488.8 451.2h2.9M1999.4 451.2h-2.9M1488.8 425.5h2.9M1999.4 425.5h-2.9M1488.8 407.3h2.9M1999.4 407.3h-2.9M1488.8 393.1h2.9M1999.4 393.1h-2.9M1488.8 381.6h2.9M1999.4 381.6h-2.9M1488.8 371.8h2.9M1999.4 371.8h-2.9M1488.8 363.3h2.9M1999.4 363.3h-2.9M1488.8 355.9h2.9M1999.4 355.9h-2.9M1488.8 516.8h2.9M1999.4 516.8h-2.9M1488.8 508.7h2.9M1999.4 508.7h-2.9M1488.8 501.5h2.9M1999.4 501.5h-2.9M1548.9 523.7v-5M1548.9 59.2v5M1667.7 523.7v-5M1667.7 59.2v5M1784.9 523.7v-5M1784.9 59.2v5M1901.6 523.7v-5M1901.6 59.2v5" stroke="#262626" stroke-width="1.8" fill="none"/>
<rect x="1488.8" y="59.2" width="510.6" height="464.5" fill="none" stroke="#262626" stroke-width="2.05"/>
<g stroke="#0000ff"><use href="#s" x="1489.2" y="59.2"/><use href="#s" x="1490.4" y="60.5"/><use href="#s" x="1491.5" y="61.7"/></g>
<g stroke="#ff0000"><use href="#s" x="1492.7" y="63"/></g>
<g stroke="#00ff00"><use href="#s" x="1493.9" y="64.2"/><use href="#s" x="1495.1" y="65.5"/><use href="#s" x="1496.2" y="66.8"/></g>
<g stroke="#ff0000"><use href="#s" x="1497.4" y="68"/></g>
<g stroke="#00ff00"><use href="#s" x="1498.6" y="69.3"/><use href="#s" x="1499.7" y="70.6"/><use href="#s" x="1500.9" y="71.8"/><use href="#s" x="1502.1" y="73.1"/><use href="#s" x="1503.3" y="74.4"/><use href="#s" x="1504.4" y="75.6"/></g>
<g stroke="#0000ff"><use href="#s" x="1505.6" y="76.9"/><use href="#s" x="1506.8" y="78.2"/><use href="#s" x="1508" y="79.4"/></g>
<g stroke="#00ff00"><use href="#s" x="1509.1" y="80.8"/><use href="#s" x="1510" y="82.3"/><use href="#s" x="1510.9" y="83.7"/></g>
<g stroke="#0000ff"><use href="#s" x="1511.9" y="85.2"/></g>
<g stroke="#00ff00"><use href="#s" x="1512.8" y="86.6"/></g>
<g stroke="#ff0000"><use href="#s" x="1513.7" y="88.1"/></g>
<g stroke="#00ff00"><use href="#s" x="1514.6" y="89.6"/><use href="#s" x="1515.6" y="91"/><use href="#s" x="1516.5" y="92.5"/><use href="#s" x="1517.4" y="94"/><use href="#s" x="1518.3" y="95.4"/><use href="#s" x="1519.3" y="96.9"/><use href="#s" x="1520.2" y="98.3"/><use href="#s" x="1521.1" y="99.8"/></g>
<g stroke="#ff0000"><use href="#s" x="1522" y="101.3"/><use href="#s" x="1523" y="102.7"/></g>
<g stroke="#00ff00"><use href="#s" x="1524" y="104.1"/><use href="#s" x="1525" y="105.6"/></g>
<g stroke="#ff0000"><use href="#s" x="1526" y="107"/></g>
<g stroke="#00ff00"><use href="#s" x="1527.1" y="108.5"/><use href="#s" x="1528.1" y="109.9"/></g>
<g stroke="#0000ff"><use href="#s" x="1529.1" y="111.3"/></g>
<g stroke="#00ff00"><use href="#s" x="1530.2" y="112.7"/><use href="#s" x="1531.2" y="114.1"/><use href="#s" x="1532.2" y="115.6"/></g>
<g stroke="#0000ff"><use href="#s" x="1533.3" y="117"/></g>
<g stroke="#00ff00"><use href="#s" x="1534.3" y="118.4"/></g>
<g stroke="#0000ff"><use href="#s" x="1535.4" y="119.8"/></g>
<g stroke="#00ff00"><use href="#s" x="1536.5" y="121.3"/></g>
<g stroke="#0000ff"><use href="#s" x="1537.5" y="122.7"/></g>
<g stroke="#00ff00"><use href="#s" x="1538.6" y="124.1"/></g>
<g stroke="#0000ff"><use href="#s" x="1539.7" y="125.5"/><use href="#s" x="1540.7" y="126.9"/></g>
<g stroke="#00ff00"><use href="#s" x="1541.8" y="128.3"/><use href="#s" x="1542.8" y="129.8"/><use href="#s" x="1543.9" y="131.2"/><use href="#s" x="1545" y="132.6"/></g>
<g stroke="#ff0000"><use href="#s" x="1546" y="134"/></g>
<g stroke="#00ff00"><use href="#s" x="1547.2" y="135.4"/></g>
<g stroke="#ff0000"><use href="#s" x="1548.3" y="136.8"/><use href="#s" x="1549.4" y="138.1"/></g>
<g stroke="#00ff00"><use href="#s" x="1550.5" y="139.5"/><use href="#s" x="1551.7" y="141"/></g>
<g stroke="#ff0000"><use href="#s" x="1552.9" y="142.4"/></g>
<g stroke="#0000ff"><use href="#s" x="1554" y="143.8"/></g>
<g stroke="#ff0000"><use href="#s" x="1555.1" y="145.2"/></g>
<g stroke="#00ff00"><use href="#s" x="1556.3" y="146.6"/></g>
<g stroke="#0000ff"><use href="#s" x="1557.5" y="148"/></g>
<g stroke="#ff0000"><use href="#s" x="1558.7" y="149.5"/><use href="#s" x="1559.8" y="150.8"/></g>
<g stroke="#00ff00"><use href="#s" x="1560.9" y="152.2"/></g>
<g stroke="#ff0000"><use href="#s" x="1562" y="153.6"/><use href="#s" x="1563.2" y="155"/></g>
<g stroke="#0000ff"><use href="#s" x="1564.4" y="156.5"/></g>
<g stroke="#00ff00"><use href="#s" x="1565.6" y="158"/><use href="#s" x="1566.7" y="159.3"/></g>
<g stroke="#ff0000"><use href="#s" x="1567.8" y="160.7"/><use href="#s" x="1568.9" y="162.1"/><use href="#s" x="1570.1" y="163.5"/></g>
<g stroke="#00ff00"><use href="#s" x="1571.2" y="165"/></g>
<g stroke="#ff0000"><use href="#s" x="1572.4" y="166.5"/><use href="#s" x="1573.6" y="168.1"/><use href="#s" x="1574.7" y="169.4"/></g>
<g stroke="#00ff00"><use href="#s" x="1575.8" y="170.8"/></g>
<g stroke="#0000ff"><use href="#s" x="1576.9" y="172.2"/><use href="#s" x="1578.1" y="173.6"/></g>
<g stroke="#00ff00"><use href="#s" x="1579.2" y="175.1"/></g>
<g stroke="#0000ff"><use href="#s" x="1580.4" y="176.6"/></g>
<g stroke="#ff0000"><use href="#s" x="1581.7" y="178.2"/></g>
<g stroke="#00ff00"><use href="#s" x="1582.9" y="179.8"/><use href="#s" x="1584" y="181.2"/><use href="#s" x="1585.2" y="182.8"/></g>
<g stroke="#ff0000"><use href="#s" x="1586.1" y="184.3"/></g>
<g stroke="#00ff00"><use href="#s" x="1587.1" y="185.7"/></g>
<g stroke="#0000ff"><use href="#s" x="1588.2" y="187.2"/></g>
<g stroke="#ff0000"><use href="#s" x="1589.2" y="188.8"/><use href="#s" x="1590.3" y="190.3"/></g>
<g stroke="#00ff00"><use href="#s" x="1591.4" y="191.9"/><use href="#s" x="1592.6" y="193.6"/><use href="#s" x="1593.8" y="195.3"/></g>
<g stroke="#0000ff"><use href="#s" x="1595" y="197"/></g>
<g stroke="#ff0000"><use href="#s" x="1595.9" y="198.5"/></g>
<g stroke="#00ff00"><use href="#s" x="1597" y="200"/></g>
<g stroke="#0000ff"><use href="#s" x="1598" y="201.5"/></g>
<g stroke="#00ff00"><use href="#s" x="1599.1" y="203"/></g>
<g stroke="#ff0000"><use href="#s" x="1600.4" y="204.6"/></g>
<g stroke="#0000ff"><use href="#s" x="1601.8" y="206.3"/></g>
<g stroke="#ff0000"><use href="#s" x="1603.2" y="208"/><use href="#s" x="1604.3" y="209.3"/></g>
<g stroke="#00ff00"><use href="#s" x="1605.5" y="210.6"/><use href="#s" x="1606.6" y="211.9"/><use href="#s" x="1607.8" y="213.3"/></g>
<g stroke="#ff0000"><use href="#s" x="1609" y="214.7"/><use href="#s" x="1610.2" y="216.2"/></g>
<g stroke="#00ff00"><use href="#s" x="1611.5" y="217.7"/><use href="#s" x="1612.7" y="219.2"/></g>
<g stroke="#0000ff"><use href="#s" x="1614" y="220.7"/><use href="#s" x="1615.4" y="222.3"/></g>
<g stroke="#00ff00"><use href="#s" x="1616.7" y="224"/></g>
<g stroke="#ff0000"><use href="#s" x="1618.1" y="225.6"/></g>
<g stroke="#00ff00"><use href="#s" x="1619.6" y="227.4"/><use href="#s" x="1621" y="229.1"/></g>
<g stroke="#0000ff"><use href="#s" x="1622.6" y="231"/><use href="#s" x="1624.1" y="232.8"/></g>
<g stroke="#00ff00"><use href="#s" x="1625.7" y="234.8"/></g>
<g stroke="#ff0000"><use href="#s" x="1626.8" y="236.1"/><use href="#s" x="1628" y="237.5"/><use href="#s" x="1629.2" y="238.8"/></g>
<g stroke="#00ff00"><use href="#s" x="1630.4" y="240.2"/><use href="#s" x="1631.7" y="241.7"/><use href="#s" x="1633" y="243.2"/><use href="#s" x="1634.3" y="244.7"/></g>
<g stroke="#0000ff"><use href="#s" x="1635.6" y="246.2"/></g>
<g stroke="#ff0000"><use href="#s" x="1637.2" y="247.8"/></g>
<g stroke="#0000ff"><use href="#s" x="1639" y="249.4"/></g>
<g stroke="#ff0000"><use href="#s" x="1640.8" y="251.1"/><use href="#s" x="1642.7" y="252.8"/></g>
<g stroke="#0000ff"><use href="#s" x="1644.6" y="254.6"/></g>
<g stroke="#00ff00"><use href="#s" x="1646.6" y="256.4"/></g>
<g stroke="#ff0000"><use href="#s" x="1648.7" y="258.3"/><use href="#s" x="1650.8" y="260.2"/></g>
<g stroke="#00ff00"><use href="#s" x="1653.1" y="262.2"/><use href="#s" x="1655.5" y="264.2"/></g>
<g stroke="#0000ff"><use href="#s" x="1656.8" y="265.3"/></g>
<g stroke="#ff0000"><use href="#s" x="1658.1" y="266.3"/></g>
<g stroke="#0000ff"><use href="#s" x="1659.4" y="267.4"/></g>
<g stroke="#00ff00"><use href="#s" x="1660.8" y="268.5"/></g>
<g stroke="#0000ff"><use href="#s" x="1662.1" y="269.7"/></g>
<g stroke="#00ff00"><use href="#s" x="1663.5" y="270.8"/></g>
<g stroke="#ff0000"><use href="#s" x="1664.9" y="272"/></g>
<g stroke="#0000ff"><use href="#s" x="1666.3" y="273.2"/></g>
<g stroke="#00ff00"><use href="#s" x="1667.8" y="274.4"/><use href="#s" x="1669.3" y="275.6"/><use href="#s" x="1670.8" y="276.9"/><use href="#s" x="1672.4" y="278.1"/><use href="#s" x="1674" y="279.4"/><use href="#s" x="1675.8" y="280.8"/><use href="#s" x="1677.7" y="282.1"/></g>
<g stroke="#0000ff"><use href="#s" x="1679.6" y="283.5"/><use href="#s" x="1681.6" y="285"/></g>
<g stroke="#00ff00"><use href="#s" x="1683.6" y="286.4"/><use href="#s" x="1685.7" y="287.9"/><use href="#s" x="1687.8" y="289.5"/></g>
<g stroke="#0000ff"><use href="#s" x="1690" y="291"/></g>
<g stroke="#00ff00"><use href="#s" x="1692.1" y="292.6"/><use href="#s" x="1694.2" y="294.3"/><use href="#s" x="1696.3" y="296"/></g>
<g stroke="#0000ff"><use href="#s" x="1698.6" y="297.7"/></g>
<g stroke="#00ff00"><use href="#s" x="1700.9" y="299.5"/><use href="#s" x="1703.2" y="301.3"/></g>
<g stroke="#0000ff"><use href="#s" x="1705.6" y="303.2"/></g>
<g stroke="#00ff00"><use href="#s" x="1708" y="305.2"/><use href="#s" x="1709.6" y="307.2"/><use href="#s" x="1711.2" y="309.3"/></g>
<g stroke="#0000ff"><use href="#s" x="1712.8" y="311.4"/><use href="#s" x="1714.5" y="313.7"/><use href="#s" x="1716.3" y="316"/></g>
<g stroke="#ff0000"><use href="#s" x="1718.2" y="318.4"/></g>
<g stroke="#0000ff"><use href="#s" x="1720.3" y="320.9"/><use href="#s" x="1722.5" y="323.5"/><use href="#s" x="1724.7" y="326.2"/><use href="#s" x="1727.9" y="329"/><use href="#s" x="1731.8" y="331.9"/><use href="#s" x="1735.9" y="335"/></g>
<g stroke="#00ff00"><use href="#s" x="1739.3" y="338.3"/><use href="#s" x="1742.2" y="341.7"/><use href="#s" x="1745.3" y="345.4"/><use href="#s" x="1746.3" y="349.2"/></g>
<g stroke="#0000ff"><use href="#s" x="1747.3" y="353.3"/><use href="#s" x="1748.4" y="357.7"/><use href="#s" x="1749.8" y="362.4"/><use href="#s" x="1755" y="367.4"/><use href="#s" x="1776.2" y="372.9"/><use href="#s" x="1777.7" y="379"/><use href="#s" x="1790.5" y="385.7"/></g>
<g stroke="#ff0000"><use href="#s" x="1803.4" y="393.1"/></g>
<g stroke="#0000ff"><use href="#s" x="1805.6" y="401.6"/><use href="#s" x="1807.4" y="411.3"/><use href="#s" x="1822.2" y="422.9"/><use href="#s" x="1822.2" y="437"/><use href="#s" x="1851.7" y="455.3"/><use href="#s" x="1868.3" y="481"/><use href="#s" x="2001" y="526"/></g>
<line x1="1641.4" y1="59.2" x2="1641.4" y2="523.7" stroke="#000" stroke-width="7.5"/>
<text x="1441" y="44.1" font-size="34.6" font-weight="bold" fill="#000" textLength="602" lengthAdjust="spacing">Main shaft bending moment (kN-m)</text>
<text x="1548.9" y="571" font-size="33" fill="#262626" text-anchor="middle">1</text>
<text x="1667.7" y="571" font-size="33" fill="#262626" text-anchor="middle">2</text>
<text x="1784.9" y="571" font-size="33" fill="#262626" text-anchor="middle">3</text>
<text x="1901.6" y="571" font-size="33" fill="#262626" text-anchor="middle">4</text>
<text x="1457.3" y="75" font-size="33" fill="#262626" text-anchor="end">10</text>
<text x="1458.5" y="60.2" font-size="26" fill="#262626">0</text>
<text x="1449.5" y="218.8" font-size="33" fill="#262626" text-anchor="end">10</text>
<text x="1450.7" y="204" font-size="26" fill="#262626">-1</text>
<text x="1449.5" y="365" font-size="33" fill="#262626" text-anchor="end">10</text>
<text x="1450.7" y="350.2" font-size="26" fill="#262626">-2</text>
<text x="1449.5" y="510.9" font-size="33" fill="#262626" text-anchor="end">10</text>
<text x="1450.7" y="496.1" font-size="26" fill="#262626">-3</text>
<text x="1661.5" y="618.7" font-size="35" fill="#262626" textLength="162.5" lengthAdjust="spacing">EE values</text>
<text x="1931.6" y="628.7" font-size="41" fill="#4a4a4a" text-anchor="middle">×</text>
<text x="1982.4" y="622.7" font-size="33" fill="#262626" text-anchor="end" textLength="34.5" lengthAdjust="spacingAndGlyphs">10</text>
<text x="1983.4" y="607.7" font-size="26" fill="#262626">4</text>
</g>
<g>
<path d="M143.4 810.2H644.8M143.4 784.9H644.8M143.4 767H644.8M143.4 753.1H644.8M143.4 741.8H644.8M143.4 732.2H644.8M143.4 723.9H644.8M143.4 716.6H644.8M143.4 955.5H644.8M143.4 929.7H644.8M143.4 911.5H644.8M143.4 897.3H644.8M143.4 885.7H644.8M143.4 875.9H644.8M143.4 867.5H644.8M143.4 860H644.8M143.4 1101.3H644.8M143.4 1075.6H644.8M143.4 1057.4H644.8M143.4 1043.3H644.8M143.4 1031.8H644.8M143.4 1022.1H644.8M143.4 1013.6H644.8M143.4 1006.2H644.8M143.4 1167.6H644.8M143.4 1159.2H644.8M143.4 1151.8H644.8" stroke="#c2c2c2" stroke-width="2" stroke-dasharray="2 6.36" fill="none"/>
<path d="M137.2 853.3H647.8M137.2 999.5H647.8M137.2 1145.1H647.8M182.8 710V1174.8M284.6 710V1174.8M385.3 710V1174.8M487.1 710V1174.8M587.3 710V1174.8" stroke="#d6d6d6" stroke-width="1.7" fill="none"/>
<path d="M137.2 853.3h5M647.8 853.3h-5M137.2 999.5h5M647.8 999.5h-5M137.2 1145.1h5M647.8 1145.1h-5M137.2 810.2h2.9M647.8 810.2h-2.9M137.2 784.9h2.9M647.8 784.9h-2.9M137.2 767h2.9M647.8 767h-2.9M137.2 753.1h2.9M647.8 753.1h-2.9M137.2 741.8h2.9M647.8 741.8h-2.9M137.2 732.2h2.9M647.8 732.2h-2.9M137.2 723.9h2.9M647.8 723.9h-2.9M137.2 716.6h2.9M647.8 716.6h-2.9M137.2 955.5h2.9M647.8 955.5h-2.9M137.2 929.7h2.9M647.8 929.7h-2.9M137.2 911.5h2.9M647.8 911.5h-2.9M137.2 897.3h2.9M647.8 897.3h-2.9M137.2 885.7h2.9M647.8 885.7h-2.9M137.2 875.9h2.9M647.8 875.9h-2.9M137.2 867.5h2.9M647.8 867.5h-2.9M137.2 860h2.9M647.8 860h-2.9M137.2 1101.3h2.9M647.8 1101.3h-2.9M137.2 1075.6h2.9M647.8 1075.6h-2.9M137.2 1057.4h2.9M647.8 1057.4h-2.9M137.2 1043.3h2.9M647.8 1043.3h-2.9M137.2 1031.8h2.9M647.8 1031.8h-2.9M137.2 1022.1h2.9M647.8 1022.1h-2.9M137.2 1013.6h2.9M647.8 1013.6h-2.9M137.2 1006.2h2.9M647.8 1006.2h-2.9M137.2 1167.6h2.9M647.8 1167.6h-2.9M137.2 1159.2h2.9M647.8 1159.2h-2.9M137.2 1151.8h2.9M647.8 1151.8h-2.9M182.8 1174.8v-5M182.8 710v5M284.6 1174.8v-5M284.6 710v5M385.3 1174.8v-5M385.3 710v5M487.1 1174.8v-5M487.1 710v5M587.3 1174.8v-5M587.3 710v5" stroke="#262626" stroke-width="1.8" fill="none"/>
<rect x="137.2" y="710" width="510.6" height="464.8" fill="none" stroke="#262626" stroke-width="2.05"/>
<g stroke="#0000ff"><use href="#s" x="137.2" y="710"/><use href="#s" x="138.5" y="711.2"/><use href="#s" x="139.9" y="712.2"/><use href="#s" x="141.3" y="713.2"/><use href="#s" x="142.7" y="714.1"/><use href="#s" x="144.2" y="715.1"/><use href="#s" x="145.7" y="716"/><use href="#s" x="147.3" y="716.7"/><use href="#s" x="148.9" y="717.3"/><use href="#s" x="150.5" y="718"/><use href="#s" x="152.2" y="718.7"/><use href="#s" x="153.9" y="719.3"/><use href="#s" x="155.6" y="720"/><use href="#s" x="157.1" y="720.7"/><use href="#s" x="158.8" y="721.3"/><use href="#s" x="160.5" y="722"/><use href="#s" x="162.3" y="722.4"/><use href="#s" x="164.2" y="722.8"/><use href="#s" x="166.1" y="723.3"/><use href="#s" x="167.7" y="723.6"/><use href="#s" x="169.4" y="724"/><use href="#s" x="171.1" y="724.4"/><use href="#s" x="172.8" y="724.8"/><use href="#s" x="174.5" y="725.2"/><use href="#s" x="176.5" y="725.6"/><use href="#s" x="178.3" y="725.8"/><use href="#s" x="180.1" y="726.1"/><use href="#s" x="181.9" y="726.3"/><use href="#s" x="183.7" y="726.6"/><use href="#s" x="185.5" y="726.8"/><use href="#s" x="187.4" y="727.1"/><use href="#s" x="189.2" y="727.3"/><use href="#s" x="191.1" y="727.6"/><use href="#s" x="193.2" y="727.9"/><use href="#s" x="195.3" y="728.1"/><use href="#s" x="197.3" y="728.4"/><use href="#s" x="199.4" y="728.6"/><use href="#s" x="201.5" y="728.9"/><use href="#s" x="203.6" y="729.2"/><use href="#s" x="205.7" y="729.4"/><use href="#s" x="207.4" y="729.7"/><use href="#s" x="209.2" y="730"/><use href="#s" x="210.9" y="730.2"/><use href="#s" x="212.7" y="730.5"/><use href="#s" x="214.4" y="730.8"/><use href="#s" x="216.2" y="731"/><use href="#s" x="218" y="731.3"/></g>
<g stroke="#ff0000"><use href="#s" x="219.8" y="731.6"/><use href="#s" x="221.4" y="732.3"/><use href="#s" x="222.8" y="733.3"/><use href="#s" x="224.2" y="734.3"/><use href="#s" x="225.6" y="735.3"/><use href="#s" x="227.1" y="736.3"/><use href="#s" x="228.3" y="737.5"/><use href="#s" x="229.1" y="739.1"/><use href="#s" x="230" y="740.6"/><use href="#s" x="230.8" y="742.1"/><use href="#s" x="231.7" y="743.6"/><use href="#s" x="232.5" y="745.2"/><use href="#s" x="233.3" y="746.8"/></g>
<g stroke="#00ff00"><use href="#s" x="234" y="748.3"/><use href="#s" x="234.7" y="750"/><use href="#s" x="235.5" y="751.5"/><use href="#s" x="236.2" y="753.1"/><use href="#s" x="236.6" y="754.8"/></g>
<g stroke="#ff0000"><use href="#s" x="236.9" y="756.5"/><use href="#s" x="237.2" y="758.2"/><use href="#s" x="237.5" y="760"/></g>
<g stroke="#00ff00"><use href="#s" x="237.8" y="761.7"/><use href="#s" x="238.1" y="763.4"/></g>
<g stroke="#ff0000"><use href="#s" x="238.4" y="765.2"/><use href="#s" x="238.8" y="766.9"/></g>
<g stroke="#00ff00"><use href="#s" x="239.3" y="768.6"/></g>
<g stroke="#ff0000"><use href="#s" x="239.9" y="770.2"/></g>
<g stroke="#00ff00"><use href="#s" x="240.4" y="771.9"/><use href="#s" x="241" y="773.6"/></g>
<g stroke="#ff0000"><use href="#s" x="241.6" y="775.2"/><use href="#s" x="242.1" y="776.9"/><use href="#s" x="242.7" y="778.5"/><use href="#s" x="243.2" y="780.2"/></g>
<g stroke="#00ff00"><use href="#s" x="243.8" y="781.9"/><use href="#s" x="244.4" y="783.5"/><use href="#s" x="245" y="785.2"/><use href="#s" x="245.6" y="786.9"/></g>
<g stroke="#ff0000"><use href="#s" x="246.2" y="788.5"/><use href="#s" x="246.9" y="790.2"/><use href="#s" x="247.5" y="791.9"/><use href="#s" x="248.1" y="793.5"/><use href="#s" x="248.8" y="795.2"/></g>
<g stroke="#00ff00"><use href="#s" x="249.4" y="796.9"/><use href="#s" x="250" y="798.5"/><use href="#s" x="250.7" y="800.1"/></g>
<g stroke="#ff0000"><use href="#s" x="251.3" y="801.8"/></g>
<g stroke="#00ff00"><use href="#s" x="252" y="803.5"/></g>
<g stroke="#ff0000"><use href="#s" x="252.6" y="805.1"/><use href="#s" x="253.2" y="806.8"/></g>
<g stroke="#00ff00"><use href="#s" x="253.8" y="808.4"/><use href="#s" x="254.5" y="810.2"/><use href="#s" x="255.3" y="811.7"/></g>
<g stroke="#ff0000"><use href="#s" x="256.1" y="813.4"/><use href="#s" x="256.9" y="815"/></g>
<g stroke="#00ff00"><use href="#s" x="257.8" y="816.7"/><use href="#s" x="258.5" y="818.3"/><use href="#s" x="259.3" y="819.8"/></g>
<g stroke="#ff0000"><use href="#s" x="260.1" y="821.4"/></g>
<g stroke="#00ff00"><use href="#s" x="261" y="823.1"/><use href="#s" x="261.8" y="824.8"/></g>
<g stroke="#ff0000"><use href="#s" x="262.7" y="826.5"/></g>
<g stroke="#0000ff"><use href="#s" x="263.5" y="828.1"/></g>
<g stroke="#00ff00"><use href="#s" x="264.3" y="829.6"/><use href="#s" x="265.1" y="831.3"/></g>
<g stroke="#ff0000"><use href="#s" x="265.9" y="832.9"/><use href="#s" x="266.6" y="834.6"/><use href="#s" x="267.5" y="836.4"/></g>
<g stroke="#00ff00"><use href="#s" x="268.3" y="838.2"/><use href="#s" x="269" y="839.7"/><use href="#s" x="269.7" y="841.3"/></g>
<g stroke="#ff0000"><use href="#s" x="270.5" y="842.9"/><use href="#s" x="271.3" y="844.6"/></g>
<g stroke="#00ff00"><use href="#s" x="272.1" y="846.3"/></g>
<g stroke="#0000ff"><use href="#s" x="272.9" y="848.1"/></g>
<g stroke="#00ff00"><use href="#s" x="273.7" y="849.9"/></g>
<g stroke="#ff0000"><use href="#s" x="274.6" y="851.8"/></g>
<g stroke="#00ff00"><use href="#s" x="275.5" y="853.7"/><use href="#s" x="276.4" y="855.3"/></g>
<g stroke="#ff0000"><use href="#s" x="277.4" y="857"/><use href="#s" x="278.4" y="858.7"/></g>
<g stroke="#00ff00"><use href="#s" x="279.4" y="860.4"/></g>
<g stroke="#0000ff"><use href="#s" x="280.4" y="862.2"/></g>
<g stroke="#00ff00"><use href="#s" x="281.5" y="864.1"/><use href="#s" x="282.6" y="866"/></g>
<g stroke="#ff0000"><use href="#s" x="283.7" y="868"/></g>
<g stroke="#00ff00"><use href="#s" x="284.9" y="869.5"/></g>
<g stroke="#ff0000"><use href="#s" x="286.2" y="871"/><use href="#s" x="287.6" y="872.6"/></g>
<g stroke="#00ff00"><use href="#s" x="288.9" y="874.3"/><use href="#s" x="290.4" y="875.9"/></g>
<g stroke="#ff0000"><use href="#s" x="291.8" y="877.7"/></g>
<g stroke="#00ff00"><use href="#s" x="293.3" y="879.4"/></g>
<g stroke="#ff0000"><use href="#s" x="294.9" y="881.3"/></g>
<g stroke="#00ff00"><use href="#s" x="296.5" y="883.1"/><use href="#s" x="298.1" y="885.1"/></g>
<g stroke="#ff0000"><use href="#s" x="299.2" y="886.4"/></g>
<g stroke="#00ff00"><use href="#s" x="300.4" y="887.8"/></g>
<g stroke="#ff0000"><use href="#s" x="301.7" y="889.1"/></g>
<g stroke="#00ff00"><use href="#s" x="303" y="890.5"/><use href="#s" x="304.3" y="892"/><use href="#s" x="305.7" y="893.5"/><use href="#s" x="307.1" y="895"/></g>
<g stroke="#ff0000"><use href="#s" x="308.5" y="896.5"/><use href="#s" x="310" y="898.1"/></g>
<g stroke="#00ff00"><use href="#s" x="311.4" y="899.7"/><use href="#s" x="312.9" y="901.4"/><use href="#s" x="314.4" y="903.1"/></g>
<g stroke="#ff0000"><use href="#s" x="315.9" y="904.9"/></g>
<g stroke="#0000ff"><use href="#s" x="317.5" y="906.7"/><use href="#s" x="319.2" y="908.6"/><use href="#s" x="320.9" y="910.5"/></g>
<g stroke="#00ff00"><use href="#s" x="322.5" y="912.5"/></g>
<g stroke="#ff0000"><use href="#s" x="324.1" y="914.5"/><use href="#s" x="324.9" y="915.6"/><use href="#s" x="325.7" y="916.6"/><use href="#s" x="326.5" y="917.7"/><use href="#s" x="327.4" y="918.8"/></g>
<g stroke="#00ff00"><use href="#s" x="328.2" y="920"/><use href="#s" x="329.1" y="921.1"/></g>
<g stroke="#ff0000"><use href="#s" x="330" y="922.3"/><use href="#s" x="330.9" y="923.5"/></g>
<g stroke="#0000ff"><use href="#s" x="331.8" y="924.7"/></g>
<g stroke="#ff0000"><use href="#s" x="332.8" y="925.9"/></g>
<g stroke="#00ff00"><use href="#s" x="333.7" y="927.2"/><use href="#s" x="334.7" y="928.4"/><use href="#s" x="335.7" y="929.7"/><use href="#s" x="336.7" y="931.1"/></g>
<g stroke="#0000ff"><use href="#s" x="337.7" y="932.4"/></g>
<g stroke="#00ff00"><use href="#s" x="338.6" y="933.8"/><use href="#s" x="339.6" y="935.3"/></g>
<g stroke="#ff0000"><use href="#s" x="340.7" y="936.7"/></g>
<g stroke="#0000ff"><use href="#s" x="341.7" y="938.2"/></g>
<g stroke="#ff0000"><use href="#s" x="342.8" y="939.8"/></g>
<g stroke="#00ff00"><use href="#s" x="343.9" y="941.3"/><use href="#s" x="345" y="942.9"/></g>
<g stroke="#ff0000"><use href="#s" x="346.2" y="944.6"/><use href="#s" x="347.4" y="946.3"/></g>
<g stroke="#00ff00"><use href="#s" x="348.6" y="948"/></g>
<g stroke="#0000ff"><use href="#s" x="349.9" y="949.8"/></g>
<g stroke="#00ff00"><use href="#s" x="351.2" y="951.6"/><use href="#s" x="352.5" y="953.5"/></g>
<g stroke="#ff0000"><use href="#s" x="354.1" y="955.5"/></g>
<g stroke="#00ff00"><use href="#s" x="355.8" y="957.5"/><use href="#s" x="357.5" y="959.6"/></g>
<g stroke="#ff0000"><use href="#s" x="359.3" y="961.7"/></g>
<g stroke="#0000ff"><use href="#s" x="361.1" y="964"/></g>
<g stroke="#00ff00"><use href="#s" x="363" y="966.3"/></g>
<g stroke="#ff0000"><use href="#s" x="364.9" y="968.7"/><use href="#s" x="366.8" y="971.2"/></g>
<g stroke="#0000ff"><use href="#s" x="368.8" y="973.8"/><use href="#s" x="370.8" y="976.5"/><use href="#s" x="373.1" y="979.3"/></g>
<g stroke="#ff0000"><use href="#s" x="375.6" y="982.2"/></g>
<g stroke="#00ff00"><use href="#s" x="378.3" y="985.3"/><use href="#s" x="381" y="988.6"/></g>
<g stroke="#ff0000"><use href="#s" x="384" y="992"/></g>
<g stroke="#00ff00"><use href="#s" x="387.9" y="995.7"/></g>
<g stroke="#0000ff"><use href="#s" x="395.6" y="999.5"/><use href="#s" x="395.6" y="1003.6"/><use href="#s" x="401.4" y="1007.9"/><use href="#s" x="401.4" y="1012.6"/><use href="#s" x="411.3" y="1017.7"/><use href="#s" x="411.3" y="1023.2"/></g>
<g stroke="#00ff00"><use href="#s" x="424.6" y="1029.2"/></g>
<g stroke="#0000ff"><use href="#s" x="435.4" y="1035.9"/></g>
<g stroke="#ff0000"><use href="#s" x="434.9" y="1043.3"/></g>
<g stroke="#0000ff"><use href="#s" x="437.1" y="1051.8"/><use href="#s" x="447.9" y="1061.5"/><use href="#s" x="457.8" y="1073"/></g>
<g stroke="#00ff00"><use href="#s" x="460.3" y="1087.2"/></g>
<g stroke="#0000ff"><use href="#s" x="462" y="1105.4"/><use href="#s" x="562.4" y="1131"/><use href="#s" x="649.6" y="1177.1"/></g>
<line x1="333" y1="710" x2="333" y2="1174.8" stroke="#000" stroke-width="7.5"/>
<text x="216.5" y="694.9" font-size="34.6" font-weight="bold" fill="#000" textLength="343.4" lengthAdjust="spacing">Rotor torque (kN-m)</text>
<text x="182.8" y="1222.1" font-size="33" fill="#262626" text-anchor="middle">4000</text>
<text x="284.6" y="1222.1" font-size="33" fill="#262626" text-anchor="middle">6000</text>
<text x="385.3" y="1222.1" font-size="33" fill="#262626" text-anchor="middle">8000</text>
<text x="487.1" y="1222.1" font-size="33" fill="#262626" text-anchor="middle">10000</text>
<text x="587.3" y="1222.1" font-size="33" fill="#262626" text-anchor="middle">12000</text>
<text x="105.7" y="725.8" font-size="33" fill="#262626" text-anchor="end">10</text>
<text x="106.9" y="711" font-size="26" fill="#262626">0</text>
<text x="97.9" y="869.1" font-size="33" fill="#262626" text-anchor="end">10</text>
<text x="99.1" y="854.3" font-size="26" fill="#262626">-1</text>
<text x="97.9" y="1015.3" font-size="33" fill="#262626" text-anchor="end">10</text>
<text x="99.1" y="1000.5" font-size="26" fill="#262626">-2</text>
<text x="97.9" y="1160.9" font-size="33" fill="#262626" text-anchor="end">10</text>
<text x="99.1" y="1146.1" font-size="26" fill="#262626">-3</text>
<text x="309.9" y="1269.8" font-size="35" fill="#262626" textLength="162.5" lengthAdjust="spacing">EE values</text>
<text transform="translate(43.4 1127.5) rotate(-90)" font-size="35.5" fill="#262626" textLength="195.4" lengthAdjust="spacing">Exceedance</text>
<text transform="translate(43.4 917.2) rotate(-90)" font-size="35.5" fill="#262626" textLength="165.5" lengthAdjust="spacing">probability</text>
</g>
<g>
<path d="M819.2 810.2H1320.6M819.2 784.9H1320.6M819.2 767H1320.6M819.2 753.1H1320.6M819.2 741.8H1320.6M819.2 732.2H1320.6M819.2 723.9H1320.6M819.2 716.6H1320.6M819.2 955.5H1320.6M819.2 929.7H1320.6M819.2 911.5H1320.6M819.2 897.3H1320.6M819.2 885.7H1320.6M819.2 875.9H1320.6M819.2 867.5H1320.6M819.2 860H1320.6M819.2 1101.3H1320.6M819.2 1075.6H1320.6M819.2 1057.4H1320.6M819.2 1043.3H1320.6M819.2 1031.8H1320.6M819.2 1022.1H1320.6M819.2 1013.6H1320.6M819.2 1006.2H1320.6M819.2 1167.6H1320.6M819.2 1159.2H1320.6M819.2 1151.8H1320.6" stroke="#c2c2c2" stroke-width="2" stroke-dasharray="2 6.36" fill="none"/>
<path d="M813 853.3H1323.6M813 999.5H1323.6M813 1145.1H1323.6M891.8 710V1174.8M1035.7 710V1174.8M1180 710V1174.8" stroke="#d6d6d6" stroke-width="1.7" fill="none"/>
<path d="M813 853.3h5M1323.6 853.3h-5M813 999.5h5M1323.6 999.5h-5M813 1145.1h5M1323.6 1145.1h-5M813 810.2h2.9M1323.6 810.2h-2.9M813 784.9h2.9M1323.6 784.9h-2.9M813 767h2.9M1323.6 767h-2.9M813 753.1h2.9M1323.6 753.1h-2.9M813 741.8h2.9M1323.6 741.8h-2.9M813 732.2h2.9M1323.6 732.2h-2.9M813 723.9h2.9M1323.6 723.9h-2.9M813 716.6h2.9M1323.6 716.6h-2.9M813 955.5h2.9M1323.6 955.5h-2.9M813 929.7h2.9M1323.6 929.7h-2.9M813 911.5h2.9M1323.6 911.5h-2.9M813 897.3h2.9M1323.6 897.3h-2.9M813 885.7h2.9M1323.6 885.7h-2.9M813 875.9h2.9M1323.6 875.9h-2.9M813 867.5h2.9M1323.6 867.5h-2.9M813 860h2.9M1323.6 860h-2.9M813 1101.3h2.9M1323.6 1101.3h-2.9M813 1075.6h2.9M1323.6 1075.6h-2.9M813 1057.4h2.9M1323.6 1057.4h-2.9M813 1043.3h2.9M1323.6 1043.3h-2.9M813 1031.8h2.9M1323.6 1031.8h-2.9M813 1022.1h2.9M1323.6 1022.1h-2.9M813 1013.6h2.9M1323.6 1013.6h-2.9M813 1006.2h2.9M1323.6 1006.2h-2.9M813 1167.6h2.9M1323.6 1167.6h-2.9M813 1159.2h2.9M1323.6 1159.2h-2.9M813 1151.8h2.9M1323.6 1151.8h-2.9M891.8 1174.8v-5M891.8 710v5M1035.7 1174.8v-5M1035.7 710v5M1180 1174.8v-5M1180 710v5M1324.2 1174.8v-5M1324.2 710v5" stroke="#262626" stroke-width="1.8" fill="none"/>
<rect x="813" y="710" width="510.6" height="464.8" fill="none" stroke="#262626" stroke-width="2.05"/>
<g stroke="#0000ff"><use href="#s" x="813" y="710"/><use href="#s" x="814.4" y="711.1"/><use href="#s" x="815.9" y="712"/><use href="#s" x="817.4" y="712.8"/><use href="#s" x="818.9" y="713.7"/><use href="#s" x="820.4" y="714.6"/><use href="#s" x="822" y="715.4"/><use href="#s" x="823.5" y="716.2"/><use href="#s" x="825.1" y="716.9"/><use href="#s" x="826.7" y="717.6"/><use href="#s" x="828.3" y="718.4"/><use href="#s" x="829.9" y="719.1"/><use href="#s" x="831.5" y="719.8"/><use href="#s" x="833.1" y="720.5"/><use href="#s" x="834.7" y="721.3"/><use href="#s" x="836.3" y="722"/><use href="#s" x="837.9" y="722.7"/><use href="#s" x="839.6" y="723.3"/><use href="#s" x="841.2" y="723.8"/><use href="#s" x="842.9" y="724.4"/><use href="#s" x="844.6" y="725"/></g>
<g stroke="#ff0000"><use href="#s" x="846.3" y="725.6"/><use href="#s" x="848" y="726.2"/><use href="#s" x="849.7" y="726.8"/><use href="#s" x="851.3" y="727.4"/><use href="#s" x="852.9" y="728"/><use href="#s" x="854.3" y="729.1"/><use href="#s" x="855.7" y="730.2"/><use href="#s" x="857" y="731.3"/><use href="#s" x="858.4" y="732.4"/><use href="#s" x="859.8" y="733.5"/><use href="#s" x="861.1" y="734.6"/><use href="#s" x="862.5" y="735.7"/><use href="#s" x="863.9" y="736.9"/><use href="#s" x="865.1" y="738.1"/><use href="#s" x="866" y="739.6"/></g>
<g stroke="#0000ff"><use href="#s" x="866.8" y="741.1"/><use href="#s" x="867.7" y="742.6"/></g>
<g stroke="#00ff00"><use href="#s" x="868.5" y="744.1"/><use href="#s" x="869.4" y="745.6"/></g>
<g stroke="#ff0000"><use href="#s" x="870.2" y="747.1"/><use href="#s" x="871.1" y="748.6"/><use href="#s" x="872" y="750.2"/></g>
<g stroke="#00ff00"><use href="#s" x="872.8" y="751.7"/></g>
<g stroke="#0000ff"><use href="#s" x="873.7" y="753.2"/><use href="#s" x="874.7" y="754.6"/></g>
<g stroke="#00ff00"><use href="#s" x="875.7" y="756"/></g>
<g stroke="#ff0000"><use href="#s" x="876.8" y="757.4"/></g>
<g stroke="#00ff00"><use href="#s" x="877.9" y="758.8"/><use href="#s" x="879" y="760.2"/><use href="#s" x="880" y="761.6"/></g>
<g stroke="#ff0000"><use href="#s" x="881.1" y="763"/><use href="#s" x="882.1" y="764.4"/><use href="#s" x="883.2" y="765.8"/><use href="#s" x="884.3" y="767.1"/><use href="#s" x="885.5" y="768.4"/></g>
<g stroke="#0000ff"><use href="#s" x="886.6" y="769.7"/></g>
<g stroke="#ff0000"><use href="#s" x="887.8" y="771"/></g>
<g stroke="#00ff00"><use href="#s" x="889" y="772.4"/></g>
<g stroke="#ff0000"><use href="#s" x="890.1" y="773.7"/></g>
<g stroke="#00ff00"><use href="#s" x="891.3" y="775"/></g>
<g stroke="#ff0000"><use href="#s" x="892.4" y="776.3"/></g>
<g stroke="#0000ff"><use href="#s" x="893.6" y="777.7"/></g>
<g stroke="#00ff00"><use href="#s" x="894.8" y="779"/><use href="#s" x="895.9" y="780.3"/></g>
<g stroke="#0000ff"><use href="#s" x="897.1" y="781.6"/></g>
<g stroke="#ff0000"><use href="#s" x="898.3" y="783"/><use href="#s" x="899.5" y="784.4"/></g>
<g stroke="#00ff00"><use href="#s" x="900.7" y="785.7"/><use href="#s" x="902" y="787"/></g>
<g stroke="#ff0000"><use href="#s" x="903.3" y="788.4"/></g>
<g stroke="#00ff00"><use href="#s" x="904.4" y="789.6"/><use href="#s" x="905.6" y="790.9"/></g>
<g stroke="#ff0000"><use href="#s" x="906.8" y="792.2"/><use href="#s" x="908.1" y="793.5"/><use href="#s" x="909.3" y="794.9"/></g>
<g stroke="#0000ff"><use href="#s" x="910.6" y="796.3"/></g>
<g stroke="#00ff00"><use href="#s" x="911.8" y="797.5"/></g>
<g stroke="#ff0000"><use href="#s" x="913" y="798.8"/><use href="#s" x="914.3" y="800.1"/><use href="#s" x="915.5" y="801.5"/></g>
<g stroke="#0000ff"><use href="#s" x="916.8" y="802.8"/></g>
<g stroke="#00ff00"><use href="#s" x="918.1" y="804.2"/></g>
<g stroke="#0000ff"><use href="#s" x="919.3" y="805.5"/><use href="#s" x="920.5" y="806.8"/></g>
<g stroke="#ff0000"><use href="#s" x="921.7" y="808.1"/><use href="#s" x="922.9" y="809.4"/><use href="#s" x="924.3" y="810.7"/></g>
<g stroke="#00ff00"><use href="#s" x="925.6" y="812.1"/></g>
<g stroke="#ff0000"><use href="#s" x="926.9" y="813.4"/></g>
<g stroke="#00ff00"><use href="#s" x="928.1" y="814.6"/><use href="#s" x="929.4" y="815.9"/></g>
<g stroke="#ff0000"><use href="#s" x="930.7" y="817.2"/><use href="#s" x="932" y="818.5"/></g>
<g stroke="#0000ff"><use href="#s" x="933.4" y="819.8"/></g>
<g stroke="#ff0000"><use href="#s" x="934.8" y="821.2"/><use href="#s" x="936.2" y="822.6"/></g>
<g stroke="#0000ff"><use href="#s" x="937.6" y="824"/></g>
<g stroke="#00ff00"><use href="#s" x="938.8" y="825.3"/></g>
<g stroke="#0000ff"><use href="#s" x="940.1" y="826.5"/><use href="#s" x="941.4" y="827.8"/></g>
<g stroke="#00ff00"><use href="#s" x="942.7" y="829.1"/></g>
<g stroke="#ff0000"><use href="#s" x="944" y="830.4"/><use href="#s" x="945.4" y="831.8"/></g>
<g stroke="#0000ff"><use href="#s" x="946.7" y="833.2"/><use href="#s" x="948.1" y="834.6"/></g>
<g stroke="#00ff00"><use href="#s" x="949.5" y="836.1"/></g>
<g stroke="#ff0000"><use href="#s" x="951" y="837.6"/></g>
<g stroke="#0000ff"><use href="#s" x="952.4" y="839.1"/></g>
<g stroke="#00ff00"><use href="#s" x="953.6" y="840.4"/></g>
<g stroke="#0000ff"><use href="#s" x="954.9" y="841.6"/></g>
<g stroke="#ff0000"><use href="#s" x="956.1" y="842.9"/></g>
<g stroke="#00ff00"><use href="#s" x="957.4" y="844.3"/></g>
<g stroke="#0000ff"><use href="#s" x="958.7" y="845.6"/><use href="#s" x="960.1" y="847"/></g>
<g stroke="#00ff00"><use href="#s" x="961.4" y="848.4"/><use href="#s" x="962.8" y="849.9"/></g>
<g stroke="#ff0000"><use href="#s" x="964.3" y="851.4"/></g>
<g stroke="#0000ff"><use href="#s" x="965.7" y="852.9"/><use href="#s" x="967.2" y="854.5"/></g>
<g stroke="#ff0000"><use href="#s" x="968.6" y="856.1"/></g>
<g stroke="#00ff00"><use href="#s" x="970" y="857.8"/><use href="#s" x="971.4" y="859.6"/><use href="#s" x="972.6" y="860.9"/></g>
<g stroke="#ff0000"><use href="#s" x="973.7" y="862.2"/></g>
<g stroke="#00ff00"><use href="#s" x="974.9" y="863.6"/></g>
<g stroke="#ff0000"><use href="#s" x="976.1" y="865"/></g>
<g stroke="#00ff00"><use href="#s" x="977.3" y="866.5"/><use href="#s" x="978.5" y="868"/></g>
<g stroke="#ff0000"><use href="#s" x="979.8" y="869.5"/><use href="#s" x="981.2" y="871"/></g>
<g stroke="#00ff00"><use href="#s" x="982.6" y="872.6"/></g>
<g stroke="#0000ff"><use href="#s" x="984.1" y="874.3"/></g>
<g stroke="#ff0000"><use href="#s" x="985.6" y="875.9"/></g>
<g stroke="#0000ff"><use href="#s" x="987.1" y="877.7"/><use href="#s" x="988.6" y="879.4"/></g>
<g stroke="#ff0000"><use href="#s" x="990.2" y="881.3"/></g>
<g stroke="#00ff00"><use href="#s" x="991.9" y="883.1"/></g>
<g stroke="#ff0000"><use href="#s" x="993" y="884.4"/></g>
<g stroke="#00ff00"><use href="#s" x="994.2" y="885.7"/></g>
<g stroke="#ff0000"><use href="#s" x="995.4" y="887.1"/></g>
<g stroke="#00ff00"><use href="#s" x="996.8" y="888.4"/></g>
<g stroke="#0000ff"><use href="#s" x="998.3" y="889.8"/><use href="#s" x="999.8" y="891.3"/></g>
<g stroke="#00ff00"><use href="#s" x="1001.4" y="892.7"/></g>
<g stroke="#ff0000"><use href="#s" x="1003" y="894.2"/><use href="#s" x="1004.6" y="895.7"/></g>
<g stroke="#0000ff"><use href="#s" x="1006.3" y="897.3"/></g>
<g stroke="#ff0000"><use href="#s" x="1008.3" y="898.9"/></g>
<g stroke="#00ff00"><use href="#s" x="1010.4" y="900.6"/><use href="#s" x="1012.5" y="902.3"/></g>
<g stroke="#0000ff"><use href="#s" x="1014.8" y="904"/></g>
<g stroke="#00ff00"><use href="#s" x="1017" y="905.8"/><use href="#s" x="1019.4" y="907.6"/></g>
<g stroke="#ff0000"><use href="#s" x="1021.8" y="909.5"/></g>
<g stroke="#0000ff"><use href="#s" x="1024.4" y="911.5"/></g>
<g stroke="#00ff00"><use href="#s" x="1025.8" y="912.5"/></g>
<g stroke="#ff0000"><use href="#s" x="1027.3" y="913.5"/><use href="#s" x="1028.8" y="914.5"/></g>
<g stroke="#0000ff"><use href="#s" x="1030.3" y="915.6"/><use href="#s" x="1031.9" y="916.6"/></g>
<g stroke="#ff0000"><use href="#s" x="1033.4" y="917.7"/><use href="#s" x="1035" y="918.8"/></g>
<g stroke="#00ff00"><use href="#s" x="1036.7" y="920"/></g>
<g stroke="#0000ff"><use href="#s" x="1038.3" y="921.1"/></g>
<g stroke="#ff0000"><use href="#s" x="1040" y="922.3"/></g>
<g stroke="#00ff00"><use href="#s" x="1041.7" y="923.5"/></g>
<g stroke="#ff0000"><use href="#s" x="1043.5" y="924.7"/><use href="#s" x="1045.3" y="925.9"/><use href="#s" x="1047.1" y="927.2"/></g>
<g stroke="#0000ff"><use href="#s" x="1049" y="928.4"/></g>
<g stroke="#ff0000"><use href="#s" x="1050.8" y="929.7"/></g>
<g stroke="#0000ff"><use href="#s" x="1052.4" y="931.1"/></g>
<g stroke="#00ff00"><use href="#s" x="1054.1" y="932.4"/></g>
<g stroke="#ff0000"><use href="#s" x="1055.8" y="933.8"/><use href="#s" x="1057.5" y="935.3"/></g>
<g stroke="#0000ff"><use href="#s" x="1059.3" y="936.7"/><use href="#s" x="1061.1" y="938.2"/></g>
<g stroke="#00ff00"><use href="#s" x="1062.9" y="939.8"/><use href="#s" x="1064.6" y="941.3"/><use href="#s" x="1066.4" y="942.9"/><use href="#s" x="1068.1" y="944.6"/><use href="#s" x="1069.9" y="946.3"/><use href="#s" x="1071.8" y="948"/></g>
<g stroke="#ff0000"><use href="#s" x="1073.7" y="949.8"/></g>
<g stroke="#00ff00"><use href="#s" x="1075.5" y="951.6"/><use href="#s" x="1077.1" y="953.5"/><use href="#s" x="1078.8" y="955.5"/><use href="#s" x="1080.5" y="957.5"/></g>
<g stroke="#ff0000"><use href="#s" x="1082.2" y="959.6"/></g>
<g stroke="#00ff00"><use href="#s" x="1084" y="961.7"/><use href="#s" x="1086.3" y="964"/><use href="#s" x="1088.7" y="966.3"/></g>
<g stroke="#0000ff"><use href="#s" x="1091.1" y="968.7"/><use href="#s" x="1093.6" y="971.2"/><use href="#s" x="1097.1" y="973.8"/><use href="#s" x="1101.5" y="976.5"/><use href="#s" x="1106.1" y="979.3"/><use href="#s" x="1111.1" y="982.2"/><use href="#s" x="1116.6" y="985.3"/><use href="#s" x="1121.1" y="988.6"/><use href="#s" x="1125.2" y="992"/></g>
<g stroke="#00ff00"><use href="#s" x="1129.3" y="995.7"/><use href="#s" x="1133.6" y="999.5"/><use href="#s" x="1136.6" y="1003.6"/><use href="#s" x="1138.1" y="1007.9"/></g>
<g stroke="#0000ff"><use href="#s" x="1141.1" y="1012.6"/><use href="#s" x="1145.6" y="1017.7"/><use href="#s" x="1148.6" y="1023.2"/><use href="#s" x="1152.4" y="1029.2"/></g>
<g stroke="#00ff00"><use href="#s" x="1154.7" y="1035.9"/></g>
<g stroke="#0000ff"><use href="#s" x="1179.6" y="1043.3"/><use href="#s" x="1194.4" y="1051.8"/><use href="#s" x="1194.4" y="1061.5"/><use href="#s" x="1194.4" y="1073"/><use href="#s" x="1196.2" y="1087.2"/></g>
<g stroke="#ff0000"><use href="#s" x="1206.7" y="1105.4"/></g>
<g stroke="#0000ff"><use href="#s" x="1217.3" y="1131"/><use href="#s" x="1326" y="1177.1"/></g>
<line x1="1013" y1="710" x2="1013" y2="1174.8" stroke="#000" stroke-width="7.5"/>
<text x="768" y="694.9" font-size="34.6" font-weight="bold" fill="#000" textLength="598.6" lengthAdjust="spacing">Tower-top bending moment (kN-m)</text>
<text x="891.8" y="1222.1" font-size="33" fill="#262626" text-anchor="middle">1</text>
<text x="1035.7" y="1222.1" font-size="33" fill="#262626" text-anchor="middle">2</text>
<text x="1180" y="1222.1" font-size="33" fill="#262626" text-anchor="middle">3</text>
<text x="1324.2" y="1222.1" font-size="33" fill="#262626" text-anchor="middle">4</text>
<text x="781.5" y="725.8" font-size="33" fill="#262626" text-anchor="end">10</text>
<text x="782.7" y="711" font-size="26" fill="#262626">0</text>
<text x="773.7" y="869.1" font-size="33" fill="#262626" text-anchor="end">10</text>
<text x="774.9" y="854.3" font-size="26" fill="#262626">-1</text>
<text x="773.7" y="1015.3" font-size="33" fill="#262626" text-anchor="end">10</text>
<text x="774.9" y="1000.5" font-size="26" fill="#262626">-2</text>
<text x="773.7" y="1160.9" font-size="33" fill="#262626" text-anchor="end">10</text>
<text x="774.9" y="1146.1" font-size="26" fill="#262626">-3</text>
<text x="985.7" y="1269.8" font-size="35" fill="#262626" textLength="162.5" lengthAdjust="spacing">EE values</text>
<text x="1255.8" y="1279.8" font-size="41" fill="#4a4a4a" text-anchor="middle">×</text>
<text x="1306.6" y="1273.8" font-size="33" fill="#262626" text-anchor="end" textLength="34.5" lengthAdjust="spacingAndGlyphs">10</text>
<text x="1307.6" y="1258.8" font-size="26" fill="#262626">4</text>
</g>
<g>
<path d="M1495 810.2H1996.4M1495 784.9H1996.4M1495 767H1996.4M1495 753.1H1996.4M1495 741.8H1996.4M1495 732.2H1996.4M1495 723.9H1996.4M1495 716.6H1996.4M1495 955.5H1996.4M1495 929.7H1996.4M1495 911.5H1996.4M1495 897.3H1996.4M1495 885.7H1996.4M1495 875.9H1996.4M1495 867.5H1996.4M1495 860H1996.4M1495 1101.3H1996.4M1495 1075.6H1996.4M1495 1057.4H1996.4M1495 1043.3H1996.4M1495 1031.8H1996.4M1495 1022.1H1996.4M1495 1013.6H1996.4M1495 1006.2H1996.4M1495 1167.6H1996.4M1495 1159.2H1996.4M1495 1151.8H1996.4" stroke="#c2c2c2" stroke-width="2" stroke-dasharray="2 6.36" fill="none"/>
<path d="M1488.8 853.3H1999.4M1488.8 999.5H1999.4M1488.8 1145.1H1999.4M1613.8 710V1174.8M1801.4 710V1174.8M1987.6 710V1174.8" stroke="#d6d6d6" stroke-width="1.7" fill="none"/>
<path d="M1488.8 853.3h5M1999.4 853.3h-5M1488.8 999.5h5M1999.4 999.5h-5M1488.8 1145.1h5M1999.4 1145.1h-5M1488.8 810.2h2.9M1999.4 810.2h-2.9M1488.8 784.9h2.9M1999.4 784.9h-2.9M1488.8 767h2.9M1999.4 767h-2.9M1488.8 753.1h2.9M1999.4 753.1h-2.9M1488.8 741.8h2.9M1999.4 741.8h-2.9M1488.8 732.2h2.9M1999.4 732.2h-2.9M1488.8 723.9h2.9M1999.4 723.9h-2.9M1488.8 716.6h2.9M1999.4 716.6h-2.9M1488.8 955.5h2.9M1999.4 955.5h-2.9M1488.8 929.7h2.9M1999.4 929.7h-2.9M1488.8 911.5h2.9M1999.4 911.5h-2.9M1488.8 897.3h2.9M1999.4 897.3h-2.9M1488.8 885.7h2.9M1999.4 885.7h-2.9M1488.8 875.9h2.9M1999.4 875.9h-2.9M1488.8 867.5h2.9M1999.4 867.5h-2.9M1488.8 860h2.9M1999.4 860h-2.9M1488.8 1101.3h2.9M1999.4 1101.3h-2.9M1488.8 1075.6h2.9M1999.4 1075.6h-2.9M1488.8 1057.4h2.9M1999.4 1057.4h-2.9M1488.8 1043.3h2.9M1999.4 1043.3h-2.9M1488.8 1031.8h2.9M1999.4 1031.8h-2.9M1488.8 1022.1h2.9M1999.4 1022.1h-2.9M1488.8 1013.6h2.9M1999.4 1013.6h-2.9M1488.8 1006.2h2.9M1999.4 1006.2h-2.9M1488.8 1167.6h2.9M1999.4 1167.6h-2.9M1488.8 1159.2h2.9M1999.4 1159.2h-2.9M1488.8 1151.8h2.9M1999.4 1151.8h-2.9M1613.8 1174.8v-5M1613.8 710v5M1801.4 1174.8v-5M1801.4 710v5M1987.6 1174.8v-5M1987.6 710v5" stroke="#262626" stroke-width="1.8" fill="none"/>
<rect x="1488.8" y="710" width="510.6" height="464.8" fill="none" stroke="#262626" stroke-width="2.05"/>
<g stroke="#0000ff"><use href="#s" x="1488.8" y="710"/><use href="#s" x="1490.3" y="711"/><use href="#s" x="1491.9" y="711.7"/><use href="#s" x="1493.4" y="712.4"/><use href="#s" x="1495" y="713.2"/><use href="#s" x="1496.7" y="713.9"/><use href="#s" x="1498.2" y="714.6"/><use href="#s" x="1499.8" y="715.3"/><use href="#s" x="1501.4" y="716"/><use href="#s" x="1502.9" y="716.8"/><use href="#s" x="1504.5" y="717.6"/><use href="#s" x="1506.1" y="718.4"/><use href="#s" x="1507.7" y="719.1"/><use href="#s" x="1509.2" y="719.9"/><use href="#s" x="1510.8" y="720.7"/><use href="#s" x="1512.4" y="721.5"/></g>
<g stroke="#ff0000"><use href="#s" x="1514" y="722.3"/><use href="#s" x="1515.5" y="723.2"/><use href="#s" x="1516.8" y="724.3"/></g>
<g stroke="#0000ff"><use href="#s" x="1518.2" y="725.4"/></g>
<g stroke="#ff0000"><use href="#s" x="1519.6" y="726.4"/><use href="#s" x="1520.9" y="727.5"/><use href="#s" x="1522.3" y="728.6"/></g>
<g stroke="#0000ff"><use href="#s" x="1523.7" y="729.6"/></g>
<g stroke="#ff0000"><use href="#s" x="1525.1" y="730.7"/><use href="#s" x="1526.2" y="732"/><use href="#s" x="1527.4" y="733.3"/><use href="#s" x="1528.5" y="734.6"/><use href="#s" x="1529.6" y="736"/><use href="#s" x="1530.7" y="737.3"/></g>
<g stroke="#00ff00"><use href="#s" x="1531.9" y="738.6"/></g>
<g stroke="#ff0000"><use href="#s" x="1533" y="739.9"/><use href="#s" x="1534.1" y="741.3"/></g>
<g stroke="#0000ff"><use href="#s" x="1535.4" y="742.4"/></g>
<g stroke="#ff0000"><use href="#s" x="1536.8" y="743.6"/><use href="#s" x="1538.1" y="744.7"/></g>
<g stroke="#0000ff"><use href="#s" x="1539.4" y="745.8"/></g>
<g stroke="#00ff00"><use href="#s" x="1540.8" y="746.9"/></g>
<g stroke="#ff0000"><use href="#s" x="1542.1" y="748.1"/></g>
<g stroke="#0000ff"><use href="#s" x="1543.5" y="749.2"/></g>
<g stroke="#ff0000"><use href="#s" x="1544.8" y="750.3"/></g>
<g stroke="#0000ff"><use href="#s" x="1546.1" y="751.4"/></g>
<g stroke="#ff0000"><use href="#s" x="1547.5" y="752.6"/></g>
<g stroke="#0000ff"><use href="#s" x="1548.9" y="753.8"/></g>
<g stroke="#ff0000"><use href="#s" x="1550.1" y="755"/><use href="#s" x="1551.3" y="756.2"/><use href="#s" x="1552.6" y="757.5"/><use href="#s" x="1553.9" y="758.8"/><use href="#s" x="1555.1" y="760"/><use href="#s" x="1556.3" y="761.2"/></g>
<g stroke="#00ff00"><use href="#s" x="1557.5" y="762.4"/></g>
<g stroke="#ff0000"><use href="#s" x="1558.8" y="763.7"/></g>
<g stroke="#00ff00"><use href="#s" x="1560" y="764.9"/></g>
<g stroke="#ff0000"><use href="#s" x="1561.3" y="766.2"/><use href="#s" x="1562.6" y="767.4"/><use href="#s" x="1563.8" y="768.6"/></g>
<g stroke="#0000ff"><use href="#s" x="1565" y="769.8"/></g>
<g stroke="#ff0000"><use href="#s" x="1566.3" y="771"/></g>
<g stroke="#0000ff"><use href="#s" x="1567.6" y="772.3"/></g>
<g stroke="#00ff00"><use href="#s" x="1569" y="773.6"/></g>
<g stroke="#ff0000"><use href="#s" x="1570.2" y="774.8"/></g>
<g stroke="#00ff00"><use href="#s" x="1571.5" y="776"/></g>
<g stroke="#ff0000"><use href="#s" x="1572.8" y="777.3"/></g>
<g stroke="#00ff00"><use href="#s" x="1574.1" y="778.5"/><use href="#s" x="1575.3" y="779.7"/></g>
<g stroke="#ff0000"><use href="#s" x="1576.6" y="780.9"/></g>
<g stroke="#0000ff"><use href="#s" x="1577.8" y="782.1"/></g>
<g stroke="#ff0000"><use href="#s" x="1579.1" y="783.4"/><use href="#s" x="1580.5" y="784.7"/></g>
<g stroke="#00ff00"><use href="#s" x="1581.7" y="786"/></g>
<g stroke="#ff0000"><use href="#s" x="1582.9" y="787.3"/></g>
<g stroke="#00ff00"><use href="#s" x="1584.2" y="788.7"/></g>
<g stroke="#ff0000"><use href="#s" x="1585.4" y="789.9"/></g>
<g stroke="#00ff00"><use href="#s" x="1586.6" y="791.2"/><use href="#s" x="1587.8" y="792.5"/></g>
<g stroke="#ff0000"><use href="#s" x="1589.1" y="793.8"/></g>
<g stroke="#00ff00"><use href="#s" x="1590.4" y="795.2"/></g>
<g stroke="#0000ff"><use href="#s" x="1591.7" y="796.6"/></g>
<g stroke="#ff0000"><use href="#s" x="1592.9" y="797.9"/></g>
<g stroke="#0000ff"><use href="#s" x="1594.1" y="799.1"/></g>
<g stroke="#ff0000"><use href="#s" x="1595.3" y="800.5"/></g>
<g stroke="#00ff00"><use href="#s" x="1596.6" y="801.8"/></g>
<g stroke="#ff0000"><use href="#s" x="1597.9" y="803.2"/><use href="#s" x="1599.2" y="804.6"/></g>
<g stroke="#00ff00"><use href="#s" x="1600.4" y="805.8"/></g>
<g stroke="#ff0000"><use href="#s" x="1601.6" y="807.1"/></g>
<g stroke="#00ff00"><use href="#s" x="1602.8" y="808.4"/></g>
<g stroke="#0000ff"><use href="#s" x="1604.1" y="809.8"/><use href="#s" x="1605.4" y="811.1"/><use href="#s" x="1606.8" y="812.5"/></g>
<g stroke="#00ff00"><use href="#s" x="1608.1" y="813.8"/><use href="#s" x="1609.3" y="815"/><use href="#s" x="1610.6" y="816.3"/></g>
<g stroke="#ff0000"><use href="#s" x="1611.9" y="817.6"/></g>
<g stroke="#0000ff"><use href="#s" x="1613.2" y="818.9"/><use href="#s" x="1614.6" y="820.3"/></g>
<g stroke="#ff0000"><use href="#s" x="1616" y="821.7"/></g>
<g stroke="#0000ff"><use href="#s" x="1617.4" y="823.1"/><use href="#s" x="1618.6" y="824.3"/></g>
<g stroke="#00ff00"><use href="#s" x="1619.8" y="825.5"/></g>
<g stroke="#0000ff"><use href="#s" x="1621.1" y="826.8"/></g>
<g stroke="#00ff00"><use href="#s" x="1622.4" y="828.1"/></g>
<g stroke="#0000ff"><use href="#s" x="1623.7" y="829.4"/></g>
<g stroke="#00ff00"><use href="#s" x="1625" y="830.7"/><use href="#s" x="1626.3" y="832.1"/></g>
<g stroke="#0000ff"><use href="#s" x="1627.6" y="833.5"/></g>
<g stroke="#00ff00"><use href="#s" x="1628.9" y="834.9"/><use href="#s" x="1630.2" y="836.4"/></g>
<g stroke="#0000ff"><use href="#s" x="1631.5" y="837.9"/></g>
<g stroke="#ff0000"><use href="#s" x="1632.9" y="839.4"/></g>
<g stroke="#0000ff"><use href="#s" x="1634.3" y="841"/><use href="#s" x="1635.5" y="842.3"/><use href="#s" x="1636.7" y="843.6"/></g>
<g stroke="#ff0000"><use href="#s" x="1637.9" y="844.9"/><use href="#s" x="1639.2" y="846.3"/><use href="#s" x="1640.4" y="847.7"/></g>
<g stroke="#00ff00"><use href="#s" x="1641.7" y="849.2"/><use href="#s" x="1643.1" y="850.6"/></g>
<g stroke="#0000ff"><use href="#s" x="1644.4" y="852.1"/></g>
<g stroke="#ff0000"><use href="#s" x="1645.8" y="853.7"/></g>
<g stroke="#00ff00"><use href="#s" x="1647.4" y="855.3"/><use href="#s" x="1648.6" y="856.6"/></g>
<g stroke="#ff0000"><use href="#s" x="1649.9" y="857.8"/></g>
<g stroke="#00ff00"><use href="#s" x="1651.2" y="859.1"/></g>
<g stroke="#ff0000"><use href="#s" x="1652.5" y="860.4"/><use href="#s" x="1653.8" y="861.8"/></g>
<g stroke="#0000ff"><use href="#s" x="1655.2" y="863.2"/></g>
<g stroke="#ff0000"><use href="#s" x="1656.6" y="864.6"/></g>
<g stroke="#0000ff"><use href="#s" x="1658" y="866"/></g>
<g stroke="#00ff00"><use href="#s" x="1659.5" y="867.5"/><use href="#s" x="1660.9" y="869"/></g>
<g stroke="#0000ff"><use href="#s" x="1662.4" y="870.5"/><use href="#s" x="1664" y="872.1"/></g>
<g stroke="#ff0000"><use href="#s" x="1665.5" y="873.7"/></g>
<g stroke="#0000ff"><use href="#s" x="1667.1" y="875.4"/></g>
<g stroke="#00ff00"><use href="#s" x="1668.8" y="877.1"/></g>
<g stroke="#ff0000"><use href="#s" x="1670.5" y="878.8"/></g>
<g stroke="#0000ff"><use href="#s" x="1672.2" y="880.7"/><use href="#s" x="1673.4" y="881.9"/></g>
<g stroke="#00ff00"><use href="#s" x="1674.6" y="883.1"/><use href="#s" x="1675.8" y="884.4"/></g>
<g stroke="#ff0000"><use href="#s" x="1677.1" y="885.7"/><use href="#s" x="1678.4" y="887.1"/></g>
<g stroke="#0000ff"><use href="#s" x="1680.2" y="888.4"/></g>
<g stroke="#00ff00"><use href="#s" x="1682.1" y="889.8"/><use href="#s" x="1684" y="891.3"/></g>
<g stroke="#0000ff"><use href="#s" x="1686" y="892.7"/></g>
<g stroke="#ff0000"><use href="#s" x="1688.1" y="894.2"/><use href="#s" x="1690.1" y="895.7"/><use href="#s" x="1692.3" y="897.3"/></g>
<g stroke="#0000ff"><use href="#s" x="1694" y="898.9"/></g>
<g stroke="#ff0000"><use href="#s" x="1695.6" y="900.6"/><use href="#s" x="1697.3" y="902.3"/></g>
<g stroke="#00ff00"><use href="#s" x="1699.1" y="904"/></g>
<g stroke="#ff0000"><use href="#s" x="1700.8" y="905.8"/></g>
<g stroke="#00ff00"><use href="#s" x="1702.7" y="907.6"/></g>
<g stroke="#0000ff"><use href="#s" x="1704.5" y="909.5"/><use href="#s" x="1706.5" y="911.5"/><use href="#s" x="1709.1" y="913.5"/><use href="#s" x="1711.8" y="915.6"/></g>
<g stroke="#00ff00"><use href="#s" x="1713.2" y="916.6"/></g>
<g stroke="#ff0000"><use href="#s" x="1714.6" y="917.7"/><use href="#s" x="1716" y="918.8"/><use href="#s" x="1717.5" y="920"/><use href="#s" x="1719" y="921.1"/></g>
<g stroke="#00ff00"><use href="#s" x="1720.5" y="922.3"/><use href="#s" x="1722" y="923.5"/><use href="#s" x="1723.5" y="924.7"/></g>
<g stroke="#ff0000"><use href="#s" x="1725.1" y="925.9"/></g>
<g stroke="#00ff00"><use href="#s" x="1726.8" y="927.2"/><use href="#s" x="1728.4" y="928.4"/></g>
<g stroke="#ff0000"><use href="#s" x="1730.7" y="929.7"/><use href="#s" x="1733" y="931.1"/></g>
<g stroke="#0000ff"><use href="#s" x="1735.4" y="932.4"/></g>
<g stroke="#ff0000"><use href="#s" x="1737.8" y="933.8"/></g>
<g stroke="#0000ff"><use href="#s" x="1740.3" y="935.3"/></g>
<g stroke="#00ff00"><use href="#s" x="1742.8" y="936.7"/></g>
<g stroke="#0000ff"><use href="#s" x="1745.4" y="938.2"/></g>
<g stroke="#ff0000"><use href="#s" x="1748" y="939.8"/><use href="#s" x="1750.7" y="941.3"/><use href="#s" x="1753.4" y="942.9"/></g>
<g stroke="#00ff00"><use href="#s" x="1756.2" y="944.6"/></g>
<g stroke="#ff0000"><use href="#s" x="1759.1" y="946.3"/></g>
<g stroke="#00ff00"><use href="#s" x="1762.2" y="948"/></g>
<g stroke="#0000ff"><use href="#s" x="1765.6" y="949.8"/></g>
<g stroke="#ff0000"><use href="#s" x="1769" y="951.6"/><use href="#s" x="1772.6" y="953.5"/><use href="#s" x="1776.3" y="955.5"/><use href="#s" x="1780" y="957.5"/><use href="#s" x="1783.6" y="959.6"/></g>
<g stroke="#00ff00"><use href="#s" x="1787.3" y="961.7"/></g>
<g stroke="#ff0000"><use href="#s" x="1791.1" y="964"/><use href="#s" x="1795" y="966.3"/><use href="#s" x="1798.8" y="968.7"/></g>
<g stroke="#00ff00"><use href="#s" x="1800.5" y="971.2"/></g>
<g stroke="#ff0000"><use href="#s" x="1802.4" y="973.8"/></g>
<g stroke="#00ff00"><use href="#s" x="1804.3" y="976.5"/><use href="#s" x="1806.2" y="979.3"/></g>
<g stroke="#0000ff"><use href="#s" x="1807.1" y="982.2"/></g>
<g stroke="#00ff00"><use href="#s" x="1808.2" y="985.3"/></g>
<g stroke="#0000ff"><use href="#s" x="1809.2" y="988.6"/></g>
<g stroke="#ff0000"><use href="#s" x="1810" y="992"/></g>
<g stroke="#0000ff"><use href="#s" x="1811" y="995.7"/></g>
<g stroke="#ff0000"><use href="#s" x="1812" y="999.5"/></g>
<g stroke="#0000ff"><use href="#s" x="1818.1" y="1003.6"/><use href="#s" x="1821.1" y="1007.9"/></g>
<g stroke="#00ff00"><use href="#s" x="1824.1" y="1012.6"/></g>
<g stroke="#0000ff"><use href="#s" x="1832.4" y="1017.7"/></g>
<g stroke="#ff0000"><use href="#s" x="1836.2" y="1023.2"/></g>
<g stroke="#00ff00"><use href="#s" x="1848.3" y="1029.2"/><use href="#s" x="1858.8" y="1035.9"/><use href="#s" x="1861.8" y="1043.3"/></g>
<g stroke="#ff0000"><use href="#s" x="1861.8" y="1051.8"/></g>
<g stroke="#0000ff"><use href="#s" x="1870.4" y="1061.5"/></g>
<g stroke="#00ff00"><use href="#s" x="1873.9" y="1073"/><use href="#s" x="1903.6" y="1087.2"/></g>
<g stroke="#0000ff"><use href="#s" x="1930.8" y="1105.4"/></g>
<g stroke="#00ff00"><use href="#s" x="1966.3" y="1131"/><use href="#s" x="2001.4" y="1177.1"/></g>
<line x1="1695.5" y1="710" x2="1695.5" y2="1174.8" stroke="#000" stroke-width="7.5"/>
<text x="1479.7" y="694.9" font-size="34.6" font-weight="bold" fill="#000" textLength="526.3" lengthAdjust="spacing">Tower-top yaw moment (kN-m)</text>
<text x="1613.8" y="1222.1" font-size="33" fill="#262626" text-anchor="middle">1</text>
<text x="1801.4" y="1222.1" font-size="33" fill="#262626" text-anchor="middle">2</text>
<text x="1987.6" y="1222.1" font-size="33" fill="#262626" text-anchor="middle">3</text>
<text x="1457.3" y="725.8" font-size="33" fill="#262626" text-anchor="end">10</text>
<text x="1458.5" y="711" font-size="26" fill="#262626">0</text>
<text x="1449.5" y="869.1" font-size="33" fill="#262626" text-anchor="end">10</text>
<text x="1450.7" y="854.3" font-size="26" fill="#262626">-1</text>
<text x="1449.5" y="1015.3" font-size="33" fill="#262626" text-anchor="end">10</text>
<text x="1450.7" y="1000.5" font-size="26" fill="#262626">-2</text>
<text x="1449.5" y="1160.9" font-size="33" fill="#262626" text-anchor="end">10</text>
<text x="1450.7" y="1146.1" font-size="26" fill="#262626">-3</text>
<text x="1661.5" y="1269.8" font-size="35" fill="#262626" textLength="162.5" lengthAdjust="spacing">EE values</text>
<text x="1931.6" y="1279.8" font-size="41" fill="#4a4a4a" text-anchor="middle">×</text>
<text x="1982.4" y="1273.8" font-size="33" fill="#262626" text-anchor="end" textLength="34.5" lengthAdjust="spacingAndGlyphs">10</text>
<text x="1983.4" y="1258.8" font-size="26" fill="#262626">4</text>
</g>
<g>
<path d="M143.4 1460.3H644.8M143.4 1434.7H644.8M143.4 1416.6H644.8M143.4 1402.5H644.8M143.4 1391H644.8M143.4 1381.2H644.8M143.4 1372.8H644.8M143.4 1365.4H644.8M143.4 1606.3H644.8M143.4 1580.5H644.8M143.4 1562.3H644.8M143.4 1548.1H644.8M143.4 1536.5H644.8M143.4 1526.7H644.8M143.4 1518.3H644.8M143.4 1510.8H644.8M143.4 1752.3H644.8M143.4 1726.6H644.8M143.4 1708.4H644.8M143.4 1694.2H644.8M143.4 1682.7H644.8M143.4 1672.9H644.8M143.4 1664.4H644.8M143.4 1657H644.8M143.4 1817.9H644.8M143.4 1809.8H644.8M143.4 1802.6H644.8" stroke="#c2c2c2" stroke-width="2" stroke-dasharray="2 6.36" fill="none"/>
<path d="M137.2 1504.1H647.8M137.2 1650.3H647.8M137.2 1796.2H647.8M241.2 1358.7V1824.8M357.9 1358.7V1824.8M474.7 1358.7V1824.8M591.5 1358.7V1824.8" stroke="#d6d6d6" stroke-width="1.7" fill="none"/>
<path d="M137.2 1504.1h5M647.8 1504.1h-5M137.2 1650.3h5M647.8 1650.3h-5M137.2 1796.2h5M647.8 1796.2h-5M137.2 1460.3h2.9M647.8 1460.3h-2.9M137.2 1434.7h2.9M647.8 1434.7h-2.9M137.2 1416.6h2.9M647.8 1416.6h-2.9M137.2 1402.5h2.9M647.8 1402.5h-2.9M137.2 1391h2.9M647.8 1391h-2.9M137.2 1381.2h2.9M647.8 1381.2h-2.9M137.2 1372.8h2.9M647.8 1372.8h-2.9M137.2 1365.4h2.9M647.8 1365.4h-2.9M137.2 1606.3h2.9M647.8 1606.3h-2.9M137.2 1580.5h2.9M647.8 1580.5h-2.9M137.2 1562.3h2.9M647.8 1562.3h-2.9M137.2 1548.1h2.9M647.8 1548.1h-2.9M137.2 1536.5h2.9M647.8 1536.5h-2.9M137.2 1526.7h2.9M647.8 1526.7h-2.9M137.2 1518.3h2.9M647.8 1518.3h-2.9M137.2 1510.8h2.9M647.8 1510.8h-2.9M137.2 1752.3h2.9M647.8 1752.3h-2.9M137.2 1726.6h2.9M647.8 1726.6h-2.9M137.2 1708.4h2.9M647.8 1708.4h-2.9M137.2 1694.2h2.9M647.8 1694.2h-2.9M137.2 1682.7h2.9M647.8 1682.7h-2.9M137.2 1672.9h2.9M647.8 1672.9h-2.9M137.2 1664.4h2.9M647.8 1664.4h-2.9M137.2 1657h2.9M647.8 1657h-2.9M137.2 1817.9h2.9M647.8 1817.9h-2.9M137.2 1809.8h2.9M647.8 1809.8h-2.9M137.2 1802.6h2.9M647.8 1802.6h-2.9M241.2 1824.8v-5M241.2 1358.7v5M357.9 1824.8v-5M357.9 1358.7v5M474.7 1824.8v-5M474.7 1358.7v5M591.5 1824.8v-5M591.5 1358.7v5" stroke="#262626" stroke-width="1.8" fill="none"/>
<rect x="137.2" y="1358.7" width="510.6" height="466.1" fill="none" stroke="#262626" stroke-width="2.05"/>
<g stroke="#0000ff"><use href="#s" x="137.3" y="1358.7"/><use href="#s" x="138.3" y="1360.1"/><use href="#s" x="139.7" y="1361"/><use href="#s" x="141.2" y="1361.9"/><use href="#s" x="142.7" y="1362.8"/><use href="#s" x="144.1" y="1363.7"/><use href="#s" x="145.6" y="1364.6"/><use href="#s" x="147.1" y="1365.5"/><use href="#s" x="148.6" y="1366.5"/><use href="#s" x="150.1" y="1367.4"/><use href="#s" x="151.6" y="1368.3"/><use href="#s" x="153" y="1369.1"/><use href="#s" x="154.6" y="1370"/><use href="#s" x="156.1" y="1370.9"/><use href="#s" x="157.6" y="1371.8"/><use href="#s" x="159.1" y="1372.6"/><use href="#s" x="160.6" y="1373.5"/><use href="#s" x="162.1" y="1374.4"/></g>
<g stroke="#00ff00"><use href="#s" x="163.6" y="1375.3"/><use href="#s" x="165.1" y="1376.1"/><use href="#s" x="166.7" y="1377"/></g>
<g stroke="#0000ff"><use href="#s" x="168.2" y="1377.9"/></g>
<g stroke="#00ff00"><use href="#s" x="169.7" y="1378.7"/><use href="#s" x="171.2" y="1379.6"/></g>
<g stroke="#0000ff"><use href="#s" x="172.6" y="1380.6"/></g>
<g stroke="#00ff00"><use href="#s" x="173.9" y="1381.8"/><use href="#s" x="175.2" y="1383"/><use href="#s" x="176.5" y="1384.2"/><use href="#s" x="177.8" y="1385.4"/><use href="#s" x="179" y="1386.5"/><use href="#s" x="180.3" y="1387.7"/></g>
<g stroke="#0000ff"><use href="#s" x="181.6" y="1388.9"/><use href="#s" x="182.9" y="1390.1"/></g>
<g stroke="#ff0000"><use href="#s" x="183.9" y="1391.5"/></g>
<g stroke="#00ff00"><use href="#s" x="184.9" y="1392.9"/><use href="#s" x="185.9" y="1394.3"/></g>
<g stroke="#ff0000"><use href="#s" x="187" y="1395.7"/></g>
<g stroke="#0000ff"><use href="#s" x="188" y="1397.1"/></g>
<g stroke="#00ff00"><use href="#s" x="189" y="1398.5"/><use href="#s" x="190.1" y="1399.9"/></g>
<g stroke="#ff0000"><use href="#s" x="191.1" y="1401.3"/></g>
<g stroke="#00ff00"><use href="#s" x="192.1" y="1402.8"/><use href="#s" x="192.7" y="1404.4"/></g>
<g stroke="#ff0000"><use href="#s" x="193.4" y="1406"/><use href="#s" x="194.1" y="1407.6"/><use href="#s" x="194.8" y="1409.3"/><use href="#s" x="195.4" y="1410.9"/></g>
<g stroke="#0000ff"><use href="#s" x="196.1" y="1412.5"/></g>
<g stroke="#ff0000"><use href="#s" x="196.8" y="1414.1"/><use href="#s" x="197.5" y="1415.8"/><use href="#s" x="198.1" y="1417.4"/></g>
<g stroke="#00ff00"><use href="#s" x="198.8" y="1419"/></g>
<g stroke="#ff0000"><use href="#s" x="199.5" y="1420.6"/><use href="#s" x="200.1" y="1422.2"/></g>
<g stroke="#00ff00"><use href="#s" x="200.8" y="1423.9"/></g>
<g stroke="#ff0000"><use href="#s" x="201.5" y="1425.6"/></g>
<g stroke="#0000ff"><use href="#s" x="202.2" y="1427.2"/></g>
<g stroke="#ff0000"><use href="#s" x="202.9" y="1428.8"/></g>
<g stroke="#00ff00"><use href="#s" x="203.5" y="1430.4"/></g>
<g stroke="#0000ff"><use href="#s" x="204.2" y="1432"/></g>
<g stroke="#00ff00"><use href="#s" x="204.9" y="1433.7"/></g>
<g stroke="#ff0000"><use href="#s" x="205.6" y="1435.3"/><use href="#s" x="206.4" y="1436.9"/></g>
<g stroke="#0000ff"><use href="#s" x="207.1" y="1438.5"/></g>
<g stroke="#ff0000"><use href="#s" x="207.9" y="1440.1"/><use href="#s" x="208.6" y="1441.7"/><use href="#s" x="209.4" y="1443.3"/></g>
<g stroke="#00ff00"><use href="#s" x="210.2" y="1445"/></g>
<g stroke="#ff0000"><use href="#s" x="210.9" y="1446.6"/></g>
<g stroke="#00ff00"><use href="#s" x="211.7" y="1448.2"/></g>
<g stroke="#ff0000"><use href="#s" x="212.4" y="1449.8"/></g>
<g stroke="#00ff00"><use href="#s" x="213.2" y="1451.5"/></g>
<g stroke="#ff0000"><use href="#s" x="214" y="1453.1"/></g>
<g stroke="#00ff00"><use href="#s" x="214.7" y="1454.7"/><use href="#s" x="215.5" y="1456.3"/></g>
<g stroke="#ff0000"><use href="#s" x="216.3" y="1458"/></g>
<g stroke="#00ff00"><use href="#s" x="217" y="1459.5"/></g>
<g stroke="#0000ff"><use href="#s" x="217.8" y="1461.1"/></g>
<g stroke="#ff0000"><use href="#s" x="218.6" y="1462.7"/></g>
<g stroke="#0000ff"><use href="#s" x="219.4" y="1464.4"/></g>
<g stroke="#ff0000"><use href="#s" x="220.3" y="1466.1"/><use href="#s" x="221.1" y="1467.6"/><use href="#s" x="221.9" y="1469.2"/><use href="#s" x="222.7" y="1470.8"/></g>
<g stroke="#00ff00"><use href="#s" x="223.6" y="1472.5"/><use href="#s" x="224.5" y="1474.2"/><use href="#s" x="225.3" y="1475.9"/></g>
<g stroke="#ff0000"><use href="#s" x="226.1" y="1477.5"/></g>
<g stroke="#0000ff"><use href="#s" x="226.9" y="1479"/></g>
<g stroke="#ff0000"><use href="#s" x="227.8" y="1480.6"/></g>
<g stroke="#0000ff"><use href="#s" x="228.6" y="1482.3"/><use href="#s" x="229.3" y="1484"/></g>
<g stroke="#00ff00"><use href="#s" x="230.1" y="1485.7"/></g>
<g stroke="#ff0000"><use href="#s" x="230.9" y="1487.5"/></g>
<g stroke="#00ff00"><use href="#s" x="231.8" y="1489.4"/><use href="#s" x="232.5" y="1491"/></g>
<g stroke="#ff0000"><use href="#s" x="233.2" y="1492.6"/></g>
<g stroke="#0000ff"><use href="#s" x="234" y="1494.3"/></g>
<g stroke="#00ff00"><use href="#s" x="234.8" y="1496"/><use href="#s" x="235.6" y="1497.7"/></g>
<g stroke="#ff0000"><use href="#s" x="236.4" y="1499.5"/><use href="#s" x="237.2" y="1501.4"/><use href="#s" x="238.1" y="1503.3"/></g>
<g stroke="#00ff00"><use href="#s" x="238.9" y="1504.9"/><use href="#s" x="239.7" y="1506.5"/></g>
<g stroke="#0000ff"><use href="#s" x="240.6" y="1508.2"/></g>
<g stroke="#ff0000"><use href="#s" x="241.5" y="1509.9"/><use href="#s" x="242.4" y="1511.7"/><use href="#s" x="243.3" y="1513.5"/></g>
<g stroke="#0000ff"><use href="#s" x="244.3" y="1515.4"/></g>
<g stroke="#00ff00"><use href="#s" x="245.3" y="1517.3"/></g>
<g stroke="#ff0000"><use href="#s" x="246.3" y="1519.3"/></g>
<g stroke="#00ff00"><use href="#s" x="247.1" y="1520.8"/></g>
<g stroke="#0000ff"><use href="#s" x="247.9" y="1522.4"/></g>
<g stroke="#00ff00"><use href="#s" x="248.7" y="1524"/></g>
<g stroke="#ff0000"><use href="#s" x="249.6" y="1525.6"/></g>
<g stroke="#0000ff"><use href="#s" x="250.4" y="1527.3"/><use href="#s" x="251.3" y="1529.1"/></g>
<g stroke="#00ff00"><use href="#s" x="252.2" y="1530.8"/></g>
<g stroke="#ff0000"><use href="#s" x="253.2" y="1532.7"/><use href="#s" x="254.1" y="1534.6"/></g>
<g stroke="#0000ff"><use href="#s" x="255.4" y="1536.5"/><use href="#s" x="256.8" y="1538.6"/><use href="#s" x="258.3" y="1540.6"/></g>
<g stroke="#00ff00"><use href="#s" x="259.3" y="1542.1"/><use href="#s" x="260.3" y="1543.5"/></g>
<g stroke="#0000ff"><use href="#s" x="261.4" y="1545"/></g>
<g stroke="#00ff00"><use href="#s" x="262.5" y="1546.5"/></g>
<g stroke="#0000ff"><use href="#s" x="263.6" y="1548.1"/></g>
<g stroke="#ff0000"><use href="#s" x="265.1" y="1549.7"/><use href="#s" x="266.6" y="1551.4"/></g>
<g stroke="#0000ff"><use href="#s" x="268.2" y="1553.1"/></g>
<g stroke="#ff0000"><use href="#s" x="269.7" y="1554.8"/></g>
<g stroke="#0000ff"><use href="#s" x="271.4" y="1556.6"/></g>
<g stroke="#00ff00"><use href="#s" x="273.1" y="1558.4"/></g>
<g stroke="#ff0000"><use href="#s" x="274.8" y="1560.3"/><use href="#s" x="276.6" y="1562.3"/><use href="#s" x="278.1" y="1564.3"/></g>
<g stroke="#00ff00"><use href="#s" x="279.5" y="1566.4"/></g>
<g stroke="#0000ff"><use href="#s" x="280.3" y="1567.4"/></g>
<g stroke="#ff0000"><use href="#s" x="281" y="1568.5"/></g>
<g stroke="#0000ff"><use href="#s" x="281.8" y="1569.6"/><use href="#s" x="282.5" y="1570.8"/></g>
<g stroke="#00ff00"><use href="#s" x="283.3" y="1571.9"/></g>
<g stroke="#0000ff"><use href="#s" x="284.1" y="1573.1"/></g>
<g stroke="#00ff00"><use href="#s" x="284.9" y="1574.3"/><use href="#s" x="285.7" y="1575.5"/><use href="#s" x="286.6" y="1576.7"/><use href="#s" x="287.4" y="1578"/><use href="#s" x="288.3" y="1579.2"/><use href="#s" x="289.2" y="1580.5"/></g>
<g stroke="#0000ff"><use href="#s" x="290" y="1581.9"/></g>
<g stroke="#00ff00"><use href="#s" x="290.9" y="1583.2"/><use href="#s" x="291.8" y="1584.6"/><use href="#s" x="292.8" y="1586.1"/><use href="#s" x="293.7" y="1587.5"/><use href="#s" x="294.7" y="1589"/><use href="#s" x="295.7" y="1590.6"/><use href="#s" x="296.8" y="1592.1"/><use href="#s" x="298" y="1593.7"/></g>
<g stroke="#0000ff"><use href="#s" x="299.3" y="1595.4"/></g>
<g stroke="#00ff00"><use href="#s" x="300.7" y="1597.1"/><use href="#s" x="302" y="1598.8"/><use href="#s" x="303.5" y="1600.6"/><use href="#s" x="305" y="1602.4"/><use href="#s" x="306.5" y="1604.3"/><use href="#s" x="308" y="1606.3"/><use href="#s" x="309.7" y="1608.3"/><use href="#s" x="311.4" y="1610.4"/><use href="#s" x="313.2" y="1612.5"/><use href="#s" x="315" y="1614.8"/></g>
<g stroke="#0000ff"><use href="#s" x="316.9" y="1617.1"/></g>
<g stroke="#00ff00"><use href="#s" x="318.9" y="1619.5"/></g>
<g stroke="#ff0000"><use href="#s" x="321" y="1622"/><use href="#s" x="322.1" y="1624.6"/><use href="#s" x="323.2" y="1627.3"/></g>
<g stroke="#0000ff"><use href="#s" x="324.3" y="1630.1"/><use href="#s" x="325.6" y="1633"/><use href="#s" x="326.8" y="1636.1"/></g>
<g stroke="#ff0000"><use href="#s" x="328.9" y="1639.4"/></g>
<g stroke="#0000ff"><use href="#s" x="331.4" y="1642.8"/></g>
<g stroke="#ff0000"><use href="#s" x="334" y="1646.5"/><use href="#s" x="336.6" y="1650.3"/></g>
<g stroke="#0000ff"><use href="#s" x="338.3" y="1654.4"/></g>
<g stroke="#ff0000"><use href="#s" x="340.1" y="1658.8"/></g>
<g stroke="#00ff00"><use href="#s" x="344.5" y="1663.5"/><use href="#s" x="349.6" y="1668.5"/><use href="#s" x="351.4" y="1674"/><use href="#s" x="368.5" y="1680.1"/><use href="#s" x="395.7" y="1686.8"/><use href="#s" x="410.6" y="1694.2"/><use href="#s" x="410.6" y="1702.7"/><use href="#s" x="416.6" y="1712.4"/><use href="#s" x="445.8" y="1724"/><use href="#s" x="453.8" y="1738.1"/><use href="#s" x="508.3" y="1756.4"/><use href="#s" x="510.2" y="1782.1"/><use href="#s" x="650.1" y="1827.1"/></g>
<line x1="279.3" y1="1358.7" x2="279.3" y2="1824.8" stroke="#000" stroke-width="7.5"/>
<text x="81.7" y="1343.6" font-size="34.6" font-weight="bold" fill="#000" textLength="617.3" lengthAdjust="spacing">Tower-base bending moment (kN-m)</text>
<text x="241.2" y="1872.1" font-size="33" fill="#262626" text-anchor="middle">1</text>
<text x="357.9" y="1872.1" font-size="33" fill="#262626" text-anchor="middle">1.5</text>
<text x="474.7" y="1872.1" font-size="33" fill="#262626" text-anchor="middle">2</text>
<text x="591.5" y="1872.1" font-size="33" fill="#262626" text-anchor="middle">2.5</text>
<text x="105.7" y="1374.5" font-size="33" fill="#262626" text-anchor="end">10</text>
<text x="106.9" y="1359.7" font-size="26" fill="#262626">0</text>
<text x="97.9" y="1519.9" font-size="33" fill="#262626" text-anchor="end">10</text>
<text x="99.1" y="1505.1" font-size="26" fill="#262626">-1</text>
<text x="97.9" y="1666.1" font-size="33" fill="#262626" text-anchor="end">10</text>
<text x="99.1" y="1651.3" font-size="26" fill="#262626">-2</text>
<text x="97.9" y="1812" font-size="33" fill="#262626" text-anchor="end">10</text>
<text x="99.1" y="1797.2" font-size="26" fill="#262626">-3</text>
<text x="309.9" y="1919.8" font-size="35" fill="#262626" textLength="162.5" lengthAdjust="spacing">EE values</text>
<text x="580" y="1929.8" font-size="41" fill="#4a4a4a" text-anchor="middle">×</text>
<text x="630.8" y="1923.8" font-size="33" fill="#262626" text-anchor="end" textLength="34.5" lengthAdjust="spacingAndGlyphs">10</text>
<text x="631.8" y="1908.8" font-size="26" fill="#262626">5</text>
<text transform="translate(43.4 1776.2) rotate(-90)" font-size="35.5" fill="#262626" textLength="195.4" lengthAdjust="spacing">Exceedance</text>
<text transform="translate(43.4 1565.9) rotate(-90)" font-size="35.5" fill="#262626" textLength="165.5" lengthAdjust="spacing">probability</text>
</g>
<g>
<path d="M819.2 1460.3H1320.6M819.2 1434.7H1320.6M819.2 1416.6H1320.6M819.2 1402.5H1320.6M819.2 1391H1320.6M819.2 1381.2H1320.6M819.2 1372.8H1320.6M819.2 1365.4H1320.6M819.2 1606.3H1320.6M819.2 1580.5H1320.6M819.2 1562.3H1320.6M819.2 1548.1H1320.6M819.2 1536.5H1320.6M819.2 1526.7H1320.6M819.2 1518.3H1320.6M819.2 1510.8H1320.6M819.2 1752.3H1320.6M819.2 1726.6H1320.6M819.2 1708.4H1320.6M819.2 1694.2H1320.6M819.2 1682.7H1320.6M819.2 1672.9H1320.6M819.2 1664.4H1320.6M819.2 1657H1320.6M819.2 1817.9H1320.6M819.2 1809.8H1320.6M819.2 1802.6H1320.6" stroke="#c2c2c2" stroke-width="2" stroke-dasharray="2 6.36" fill="none"/>
<path d="M813 1504.1H1323.6M813 1650.3H1323.6M813 1796.2H1323.6M915 1358.7V1824.8M1027.5 1358.7V1824.8M1142.3 1358.7V1824.8M1254.9 1358.7V1824.8" stroke="#d6d6d6" stroke-width="1.7" fill="none"/>
<path d="M813 1504.1h5M1323.6 1504.1h-5M813 1650.3h5M1323.6 1650.3h-5M813 1796.2h5M1323.6 1796.2h-5M813 1460.3h2.9M1323.6 1460.3h-2.9M813 1434.7h2.9M1323.6 1434.7h-2.9M813 1416.6h2.9M1323.6 1416.6h-2.9M813 1402.5h2.9M1323.6 1402.5h-2.9M813 1391h2.9M1323.6 1391h-2.9M813 1381.2h2.9M1323.6 1381.2h-2.9M813 1372.8h2.9M1323.6 1372.8h-2.9M813 1365.4h2.9M1323.6 1365.4h-2.9M813 1606.3h2.9M1323.6 1606.3h-2.9M813 1580.5h2.9M1323.6 1580.5h-2.9M813 1562.3h2.9M1323.6 1562.3h-2.9M813 1548.1h2.9M1323.6 1548.1h-2.9M813 1536.5h2.9M1323.6 1536.5h-2.9M813 1526.7h2.9M1323.6 1526.7h-2.9M813 1518.3h2.9M1323.6 1518.3h-2.9M813 1510.8h2.9M1323.6 1510.8h-2.9M813 1752.3h2.9M1323.6 1752.3h-2.9M813 1726.6h2.9M1323.6 1726.6h-2.9M813 1708.4h2.9M1323.6 1708.4h-2.9M813 1694.2h2.9M1323.6 1694.2h-2.9M813 1682.7h2.9M1323.6 1682.7h-2.9M813 1672.9h2.9M1323.6 1672.9h-2.9M813 1664.4h2.9M1323.6 1664.4h-2.9M813 1657h2.9M1323.6 1657h-2.9M813 1817.9h2.9M1323.6 1817.9h-2.9M813 1809.8h2.9M1323.6 1809.8h-2.9M813 1802.6h2.9M1323.6 1802.6h-2.9M915 1824.8v-5M915 1358.7v5M1027.5 1824.8v-5M1027.5 1358.7v5M1142.3 1824.8v-5M1142.3 1358.7v5M1254.9 1824.8v-5M1254.9 1358.7v5" stroke="#262626" stroke-width="1.8" fill="none"/>
<rect x="813" y="1358.7" width="510.6" height="466.1" fill="none" stroke="#262626" stroke-width="2.05"/>
<g stroke="#0000ff"><use href="#s" x="813" y="1358.7"/><use href="#s" x="814.1" y="1360"/><use href="#s" x="815.6" y="1361"/><use href="#s" x="816.9" y="1362"/><use href="#s" x="818.3" y="1363"/><use href="#s" x="819.8" y="1364.1"/><use href="#s" x="821.2" y="1365"/></g>
<g stroke="#00ff00"><use href="#s" x="822.6" y="1366.1"/><use href="#s" x="824" y="1367.1"/></g>
<g stroke="#0000ff"><use href="#s" x="825.4" y="1368.1"/></g>
<g stroke="#00ff00"><use href="#s" x="826.8" y="1369.1"/><use href="#s" x="828.3" y="1370.1"/><use href="#s" x="829.7" y="1371.1"/><use href="#s" x="831.1" y="1372.2"/><use href="#s" x="832.4" y="1373.3"/><use href="#s" x="833.6" y="1374.5"/><use href="#s" x="834.8" y="1375.8"/><use href="#s" x="836" y="1377.1"/><use href="#s" x="837.2" y="1378.4"/></g>
<g stroke="#0000ff"><use href="#s" x="838.4" y="1379.6"/></g>
<g stroke="#00ff00"><use href="#s" x="839.6" y="1380.9"/><use href="#s" x="840.8" y="1382.1"/><use href="#s" x="842" y="1383.4"/></g>
<g stroke="#0000ff"><use href="#s" x="843.2" y="1384.6"/></g>
<g stroke="#00ff00"><use href="#s" x="844.4" y="1385.9"/><use href="#s" x="845.6" y="1387.2"/></g>
<g stroke="#0000ff"><use href="#s" x="846.8" y="1388.4"/><use href="#s" x="848" y="1389.7"/></g>
<g stroke="#00ff00"><use href="#s" x="849.2" y="1391.1"/></g>
<g stroke="#0000ff"><use href="#s" x="850.3" y="1392.5"/></g>
<g stroke="#00ff00"><use href="#s" x="851.3" y="1393.9"/><use href="#s" x="852.4" y="1395.2"/></g>
<g stroke="#ff0000"><use href="#s" x="853.5" y="1396.6"/></g>
<g stroke="#00ff00"><use href="#s" x="854.6" y="1398"/><use href="#s" x="855.7" y="1399.3"/></g>
<g stroke="#0000ff"><use href="#s" x="856.7" y="1400.7"/></g>
<g stroke="#ff0000"><use href="#s" x="857.8" y="1402.1"/><use href="#s" x="858.6" y="1403.7"/><use href="#s" x="859.1" y="1405.3"/></g>
<g stroke="#0000ff"><use href="#s" x="859.7" y="1407"/></g>
<g stroke="#ff0000"><use href="#s" x="860.3" y="1408.6"/></g>
<g stroke="#00ff00"><use href="#s" x="860.9" y="1410.3"/></g>
<g stroke="#0000ff"><use href="#s" x="861.5" y="1411.9"/><use href="#s" x="862.1" y="1413.6"/></g>
<g stroke="#ff0000"><use href="#s" x="862.7" y="1415.2"/><use href="#s" x="863.5" y="1416.8"/><use href="#s" x="864.3" y="1418.4"/></g>
<g stroke="#00ff00"><use href="#s" x="865.1" y="1419.9"/></g>
<g stroke="#ff0000"><use href="#s" x="865.9" y="1421.5"/></g>
<g stroke="#0000ff"><use href="#s" x="866.7" y="1423.1"/></g>
<g stroke="#ff0000"><use href="#s" x="867.4" y="1424.7"/></g>
<g stroke="#00ff00"><use href="#s" x="868.2" y="1426.2"/></g>
<g stroke="#ff0000"><use href="#s" x="869" y="1427.9"/><use href="#s" x="869.8" y="1429.4"/><use href="#s" x="870.6" y="1431"/></g>
<g stroke="#00ff00"><use href="#s" x="871.4" y="1432.7"/><use href="#s" x="872.2" y="1434.2"/></g>
<g stroke="#ff0000"><use href="#s" x="873.1" y="1435.8"/></g>
<g stroke="#0000ff"><use href="#s" x="874" y="1437.3"/></g>
<g stroke="#ff0000"><use href="#s" x="874.9" y="1438.8"/></g>
<g stroke="#00ff00"><use href="#s" x="875.8" y="1440.4"/></g>
<g stroke="#ff0000"><use href="#s" x="876.7" y="1442"/></g>
<g stroke="#00ff00"><use href="#s" x="877.6" y="1443.5"/><use href="#s" x="878.5" y="1445"/><use href="#s" x="879.4" y="1446.6"/><use href="#s" x="880.3" y="1448.2"/></g>
<g stroke="#0000ff"><use href="#s" x="881.2" y="1449.6"/><use href="#s" x="882" y="1451.2"/></g>
<g stroke="#ff0000"><use href="#s" x="882.9" y="1452.7"/></g>
<g stroke="#00ff00"><use href="#s" x="883.9" y="1454.3"/></g>
<g stroke="#0000ff"><use href="#s" x="884.8" y="1455.9"/></g>
<g stroke="#00ff00"><use href="#s" x="885.7" y="1457.4"/><use href="#s" x="886.6" y="1459"/><use href="#s" x="887.5" y="1460.5"/></g>
<g stroke="#ff0000"><use href="#s" x="888.6" y="1461.9"/><use href="#s" x="889.7" y="1463.4"/></g>
<g stroke="#00ff00"><use href="#s" x="890.9" y="1464.8"/></g>
<g stroke="#ff0000"><use href="#s" x="892.1" y="1466.3"/><use href="#s" x="893.3" y="1467.9"/></g>
<g stroke="#0000ff"><use href="#s" x="894.4" y="1469.2"/></g>
<g stroke="#ff0000"><use href="#s" x="895.5" y="1470.6"/><use href="#s" x="896.6" y="1472"/><use href="#s" x="897.8" y="1473.4"/></g>
<g stroke="#0000ff"><use href="#s" x="899" y="1474.9"/></g>
<g stroke="#ff0000"><use href="#s" x="900.2" y="1476.4"/><use href="#s" x="901.4" y="1478"/></g>
<g stroke="#0000ff"><use href="#s" x="902.7" y="1479.6"/><use href="#s" x="903.8" y="1480.9"/></g>
<g stroke="#ff0000"><use href="#s" x="904.9" y="1482.6"/><use href="#s" x="906" y="1484.3"/></g>
<g stroke="#00ff00"><use href="#s" x="907" y="1485.7"/></g>
<g stroke="#0000ff"><use href="#s" x="908" y="1487.2"/><use href="#s" x="909" y="1488.8"/><use href="#s" x="910" y="1490.3"/></g>
<g stroke="#ff0000"><use href="#s" x="911.1" y="1491.9"/></g>
<g stroke="#00ff00"><use href="#s" x="912.1" y="1493.6"/></g>
<g stroke="#0000ff"><use href="#s" x="913.2" y="1495.3"/></g>
<g stroke="#ff0000"><use href="#s" x="914.4" y="1497"/><use href="#s" x="915.3" y="1498.4"/></g>
<g stroke="#0000ff"><use href="#s" x="916.3" y="1499.9"/></g>
<g stroke="#ff0000"><use href="#s" x="917.2" y="1501.4"/><use href="#s" x="918.2" y="1502.9"/><use href="#s" x="919.3" y="1504.5"/><use href="#s" x="920.4" y="1506.1"/><use href="#s" x="921.5" y="1507.8"/><use href="#s" x="922.6" y="1509.5"/><use href="#s" x="923.8" y="1511.2"/></g>
<g stroke="#0000ff"><use href="#s" x="925" y="1513"/></g>
<g stroke="#ff0000"><use href="#s" x="926.2" y="1514.9"/><use href="#s" x="927.2" y="1516.3"/><use href="#s" x="928.2" y="1517.8"/></g>
<g stroke="#00ff00"><use href="#s" x="929.2" y="1519.3"/></g>
<g stroke="#ff0000"><use href="#s" x="930.4" y="1520.8"/><use href="#s" x="931.6" y="1522.4"/></g>
<g stroke="#00ff00"><use href="#s" x="932.9" y="1524"/></g>
<g stroke="#0000ff"><use href="#s" x="934.2" y="1525.6"/><use href="#s" x="935.5" y="1527.3"/></g>
<g stroke="#00ff00"><use href="#s" x="936.9" y="1529.1"/></g>
<g stroke="#0000ff"><use href="#s" x="938.3" y="1530.8"/></g>
<g stroke="#00ff00"><use href="#s" x="939.7" y="1532.7"/></g>
<g stroke="#0000ff"><use href="#s" x="941.2" y="1534.6"/></g>
<g stroke="#00ff00"><use href="#s" x="942.5" y="1536.5"/><use href="#s" x="943.7" y="1538.6"/></g>
<g stroke="#ff0000"><use href="#s" x="945" y="1540.6"/><use href="#s" x="946.3" y="1542.8"/></g>
<g stroke="#0000ff"><use href="#s" x="947.2" y="1544.3"/></g>
<g stroke="#ff0000"><use href="#s" x="948.1" y="1545.8"/></g>
<g stroke="#00ff00"><use href="#s" x="949" y="1547.3"/></g>
<g stroke="#ff0000"><use href="#s" x="950" y="1548.9"/><use href="#s" x="950.9" y="1550.5"/><use href="#s" x="952" y="1552.2"/></g>
<g stroke="#00ff00"><use href="#s" x="953" y="1553.9"/><use href="#s" x="954.1" y="1555.7"/></g>
<g stroke="#ff0000"><use href="#s" x="955.2" y="1557.5"/></g>
<g stroke="#0000ff"><use href="#s" x="956.3" y="1559.4"/></g>
<g stroke="#ff0000"><use href="#s" x="957.5" y="1561.3"/><use href="#s" x="958.7" y="1563.3"/></g>
<g stroke="#0000ff"><use href="#s" x="960.2" y="1565.3"/></g>
<g stroke="#ff0000"><use href="#s" x="961" y="1566.4"/><use href="#s" x="961.7" y="1567.4"/><use href="#s" x="962.5" y="1568.5"/></g>
<g stroke="#00ff00"><use href="#s" x="963.3" y="1569.6"/></g>
<g stroke="#ff0000"><use href="#s" x="964.1" y="1570.8"/><use href="#s" x="964.9" y="1571.9"/></g>
<g stroke="#00ff00"><use href="#s" x="965.8" y="1573.1"/></g>
<g stroke="#ff0000"><use href="#s" x="966.6" y="1574.3"/></g>
<g stroke="#0000ff"><use href="#s" x="967.5" y="1575.5"/></g>
<g stroke="#ff0000"><use href="#s" x="968.4" y="1576.7"/><use href="#s" x="969.3" y="1578"/></g>
<g stroke="#00ff00"><use href="#s" x="970.2" y="1579.2"/></g>
<g stroke="#ff0000"><use href="#s" x="971.4" y="1580.5"/></g>
<g stroke="#00ff00"><use href="#s" x="972.6" y="1581.9"/><use href="#s" x="973.9" y="1583.2"/><use href="#s" x="975.2" y="1584.6"/><use href="#s" x="976.5" y="1586.1"/></g>
<g stroke="#0000ff"><use href="#s" x="977.9" y="1587.5"/></g>
<g stroke="#00ff00"><use href="#s" x="979.3" y="1589"/></g>
<g stroke="#0000ff"><use href="#s" x="980.7" y="1590.6"/></g>
<g stroke="#00ff00"><use href="#s" x="982.4" y="1592.1"/><use href="#s" x="984.3" y="1593.7"/></g>
<g stroke="#0000ff"><use href="#s" x="986.2" y="1595.4"/></g>
<g stroke="#00ff00"><use href="#s" x="988.2" y="1597.1"/></g>
<g stroke="#0000ff"><use href="#s" x="990.2" y="1598.8"/></g>
<g stroke="#00ff00"><use href="#s" x="993" y="1600.6"/></g>
<g stroke="#0000ff"><use href="#s" x="996.5" y="1602.4"/></g>
<g stroke="#00ff00"><use href="#s" x="1000" y="1604.3"/></g>
<g stroke="#ff0000"><use href="#s" x="1003.7" y="1606.3"/></g>
<g stroke="#00ff00"><use href="#s" x="1007.4" y="1608.3"/><use href="#s" x="1011.3" y="1610.4"/></g>
<g stroke="#0000ff"><use href="#s" x="1017.7" y="1612.5"/><use href="#s" x="1024.4" y="1614.8"/><use href="#s" x="1031.1" y="1617.1"/></g>
<g stroke="#00ff00"><use href="#s" x="1037.5" y="1619.5"/><use href="#s" x="1044" y="1622"/></g>
<g stroke="#ff0000"><use href="#s" x="1048.7" y="1624.6"/></g>
<g stroke="#0000ff"><use href="#s" x="1053.4" y="1627.3"/></g>
<g stroke="#ff0000"><use href="#s" x="1058.3" y="1630.1"/><use href="#s" x="1063.3" y="1633"/></g>
<g stroke="#0000ff"><use href="#s" x="1067.8" y="1636.1"/><use href="#s" x="1071.1" y="1639.4"/><use href="#s" x="1074.1" y="1642.8"/><use href="#s" x="1077" y="1646.5"/></g>
<g stroke="#00ff00"><use href="#s" x="1079.8" y="1650.3"/><use href="#s" x="1083.5" y="1654.4"/></g>
<g stroke="#0000ff"><use href="#s" x="1089.1" y="1658.8"/><use href="#s" x="1092.8" y="1663.5"/><use href="#s" x="1096.6" y="1668.5"/><use href="#s" x="1103.1" y="1674"/><use href="#s" x="1104" y="1680.1"/><use href="#s" x="1121.7" y="1686.8"/><use href="#s" x="1123.2" y="1694.2"/><use href="#s" x="1182.2" y="1702.7"/><use href="#s" x="1194.3" y="1712.4"/><use href="#s" x="1221.6" y="1724"/><use href="#s" x="1223.5" y="1738.1"/></g>
<g stroke="#00ff00"><use href="#s" x="1223.5" y="1756.4"/><use href="#s" x="1290.1" y="1782.1"/><use href="#s" x="1325.9" y="1827.1"/></g>
<line x1="965.2" y1="1358.7" x2="965.2" y2="1824.8" stroke="#000" stroke-width="7.5"/>
<text x="787.4" y="1343.6" font-size="34.6" font-weight="bold" fill="#000" textLength="559.9" lengthAdjust="spacing">Blade out-of-plane deflection (m)</text>
<text x="915" y="1872.1" font-size="33" fill="#262626" text-anchor="middle">10</text>
<text x="1027.5" y="1872.1" font-size="33" fill="#262626" text-anchor="middle">15</text>
<text x="1142.3" y="1872.1" font-size="33" fill="#262626" text-anchor="middle">20</text>
<text x="1254.9" y="1872.1" font-size="33" fill="#262626" text-anchor="middle">25</text>
<text x="781.5" y="1374.5" font-size="33" fill="#262626" text-anchor="end">10</text>
<text x="782.7" y="1359.7" font-size="26" fill="#262626">0</text>
<text x="773.7" y="1519.9" font-size="33" fill="#262626" text-anchor="end">10</text>
<text x="774.9" y="1505.1" font-size="26" fill="#262626">-1</text>
<text x="773.7" y="1666.1" font-size="33" fill="#262626" text-anchor="end">10</text>
<text x="774.9" y="1651.3" font-size="26" fill="#262626">-2</text>
<text x="773.7" y="1812" font-size="33" fill="#262626" text-anchor="end">10</text>
<text x="774.9" y="1797.2" font-size="26" fill="#262626">-3</text>
<text x="985.7" y="1919.8" font-size="35" fill="#262626" textLength="162.5" lengthAdjust="spacing">EE values</text>
</g>
<g>
<path d="M1495 1460.3H1996.4M1495 1434.7H1996.4M1495 1416.6H1996.4M1495 1402.5H1996.4M1495 1391H1996.4M1495 1381.2H1996.4M1495 1372.8H1996.4M1495 1365.4H1996.4M1495 1606.3H1996.4M1495 1580.5H1996.4M1495 1562.3H1996.4M1495 1548.1H1996.4M1495 1536.5H1996.4M1495 1526.7H1996.4M1495 1518.3H1996.4M1495 1510.8H1996.4M1495 1752.3H1996.4M1495 1726.6H1996.4M1495 1708.4H1996.4M1495 1694.2H1996.4M1495 1682.7H1996.4M1495 1672.9H1996.4M1495 1664.4H1996.4M1495 1657H1996.4M1495 1817.9H1996.4M1495 1809.8H1996.4M1495 1802.6H1996.4" stroke="#c2c2c2" stroke-width="2" stroke-dasharray="2 6.36" fill="none"/>
<path d="M1488.8 1504.1H1999.4M1488.8 1650.3H1999.4M1488.8 1796.2H1999.4M1521.8 1358.7V1824.8M1697.3 1358.7V1824.8M1874.4 1358.7V1824.8M1609.5 1358.7V1824.8M1786.8 1358.7V1824.8M1962 1358.7V1824.8" stroke="#d6d6d6" stroke-width="1.7" fill="none"/>
<path d="M1488.8 1504.1h5M1999.4 1504.1h-5M1488.8 1650.3h5M1999.4 1650.3h-5M1488.8 1796.2h5M1999.4 1796.2h-5M1488.8 1460.3h2.9M1999.4 1460.3h-2.9M1488.8 1434.7h2.9M1999.4 1434.7h-2.9M1488.8 1416.6h2.9M1999.4 1416.6h-2.9M1488.8 1402.5h2.9M1999.4 1402.5h-2.9M1488.8 1391h2.9M1999.4 1391h-2.9M1488.8 1381.2h2.9M1999.4 1381.2h-2.9M1488.8 1372.8h2.9M1999.4 1372.8h-2.9M1488.8 1365.4h2.9M1999.4 1365.4h-2.9M1488.8 1606.3h2.9M1999.4 1606.3h-2.9M1488.8 1580.5h2.9M1999.4 1580.5h-2.9M1488.8 1562.3h2.9M1999.4 1562.3h-2.9M1488.8 1548.1h2.9M1999.4 1548.1h-2.9M1488.8 1536.5h2.9M1999.4 1536.5h-2.9M1488.8 1526.7h2.9M1999.4 1526.7h-2.9M1488.8 1518.3h2.9M1999.4 1518.3h-2.9M1488.8 1510.8h2.9M1999.4 1510.8h-2.9M1488.8 1752.3h2.9M1999.4 1752.3h-2.9M1488.8 1726.6h2.9M1999.4 1726.6h-2.9M1488.8 1708.4h2.9M1999.4 1708.4h-2.9M1488.8 1694.2h2.9M1999.4 1694.2h-2.9M1488.8 1682.7h2.9M1999.4 1682.7h-2.9M1488.8 1672.9h2.9M1999.4 1672.9h-2.9M1488.8 1664.4h2.9M1999.4 1664.4h-2.9M1488.8 1657h2.9M1999.4 1657h-2.9M1488.8 1817.9h2.9M1999.4 1817.9h-2.9M1488.8 1809.8h2.9M1999.4 1809.8h-2.9M1488.8 1802.6h2.9M1999.4 1802.6h-2.9M1521.8 1824.8v-5M1521.8 1358.7v5M1697.3 1824.8v-5M1697.3 1358.7v5M1874.4 1824.8v-5M1874.4 1358.7v5M1609.5 1824.8v-5M1609.5 1358.7v5M1786.8 1824.8v-5M1786.8 1358.7v5M1962 1824.8v-5M1962 1358.7v5" stroke="#262626" stroke-width="1.8" fill="none"/>
<rect x="1488.8" y="1358.7" width="510.6" height="466.1" fill="none" stroke="#262626" stroke-width="2.05"/>
<g stroke="#0000ff"><use href="#s" x="1488.8" y="1358.7"/><use href="#s" x="1489.5" y="1360.3"/><use href="#s" x="1490.5" y="1361.6"/><use href="#s" x="1491.5" y="1363.1"/><use href="#s" x="1492.5" y="1364.5"/><use href="#s" x="1493.5" y="1365.9"/><use href="#s" x="1494.5" y="1367.3"/><use href="#s" x="1495.9" y="1368.4"/><use href="#s" x="1497.5" y="1369.1"/><use href="#s" x="1499.2" y="1369.7"/><use href="#s" x="1500.8" y="1370.4"/><use href="#s" x="1502.5" y="1371"/><use href="#s" x="1504.2" y="1371.7"/><use href="#s" x="1505.8" y="1372.3"/><use href="#s" x="1507.4" y="1373"/><use href="#s" x="1509" y="1373.6"/><use href="#s" x="1510.8" y="1374.2"/><use href="#s" x="1512.7" y="1374.6"/><use href="#s" x="1514.6" y="1375.1"/><use href="#s" x="1516.4" y="1375.5"/><use href="#s" x="1518.3" y="1375.9"/><use href="#s" x="1520" y="1376.2"/><use href="#s" x="1521.7" y="1376.6"/><use href="#s" x="1523.3" y="1377"/><use href="#s" x="1525" y="1377.3"/><use href="#s" x="1527" y="1377.6"/><use href="#s" x="1528.7" y="1377.7"/><use href="#s" x="1530.4" y="1377.9"/><use href="#s" x="1532.1" y="1378"/><use href="#s" x="1533.9" y="1378.2"/><use href="#s" x="1535.6" y="1378.4"/><use href="#s" x="1537.4" y="1378.5"/><use href="#s" x="1539.1" y="1378.7"/><use href="#s" x="1541.3" y="1378.8"/><use href="#s" x="1543.7" y="1379"/><use href="#s" x="1546" y="1379.1"/><use href="#s" x="1548.3" y="1379.2"/><use href="#s" x="1550.7" y="1379.3"/><use href="#s" x="1553" y="1379.4"/><use href="#s" x="1555.4" y="1379.5"/><use href="#s" x="1557.5" y="1379.6"/><use href="#s" x="1559.6" y="1379.7"/><use href="#s" x="1561.7" y="1379.8"/><use href="#s" x="1563.8" y="1379.9"/></g>
<g stroke="#ff0000"><use href="#s" x="1565.6" y="1380.3"/><use href="#s" x="1567.1" y="1381.2"/><use href="#s" x="1568.7" y="1382"/><use href="#s" x="1570.3" y="1382.9"/><use href="#s" x="1570.6" y="1384.6"/><use href="#s" x="1570.7" y="1386.3"/><use href="#s" x="1570.9" y="1388.1"/><use href="#s" x="1571" y="1389.8"/><use href="#s" x="1571.1" y="1391.5"/><use href="#s" x="1571.2" y="1393.2"/><use href="#s" x="1571.4" y="1395"/><use href="#s" x="1571.5" y="1396.7"/><use href="#s" x="1571.6" y="1398.4"/><use href="#s" x="1571.8" y="1400.1"/><use href="#s" x="1571.9" y="1401.8"/></g>
<g stroke="#00ff00"><use href="#s" x="1572.1" y="1403.6"/><use href="#s" x="1572.1" y="1405.3"/></g>
<g stroke="#ff0000"><use href="#s" x="1572.2" y="1407.1"/></g>
<g stroke="#00ff00"><use href="#s" x="1572.3" y="1408.8"/></g>
<g stroke="#ff0000"><use href="#s" x="1572.4" y="1410.5"/></g>
<g stroke="#00ff00"><use href="#s" x="1572.5" y="1412.3"/><use href="#s" x="1572.6" y="1414"/></g>
<g stroke="#ff0000"><use href="#s" x="1572.7" y="1415.8"/></g>
<g stroke="#00ff00"><use href="#s" x="1572.8" y="1417.6"/></g>
<g stroke="#ff0000"><use href="#s" x="1572.9" y="1419.3"/><use href="#s" x="1573" y="1421.1"/></g>
<g stroke="#00ff00"><use href="#s" x="1573.1" y="1422.8"/><use href="#s" x="1573.1" y="1424.5"/><use href="#s" x="1573.2" y="1426.2"/><use href="#s" x="1573.3" y="1428"/></g>
<g stroke="#ff0000"><use href="#s" x="1573.4" y="1429.8"/></g>
<g stroke="#00ff00"><use href="#s" x="1573.5" y="1431.5"/></g>
<g stroke="#ff0000"><use href="#s" x="1573.6" y="1433.3"/><use href="#s" x="1573.6" y="1435.1"/></g>
<g stroke="#00ff00"><use href="#s" x="1573.7" y="1436.9"/><use href="#s" x="1573.7" y="1438.7"/><use href="#s" x="1573.8" y="1440.4"/></g>
<g stroke="#ff0000"><use href="#s" x="1573.8" y="1442.1"/></g>
<g stroke="#00ff00"><use href="#s" x="1573.9" y="1443.9"/><use href="#s" x="1573.9" y="1445.8"/></g>
<g stroke="#ff0000"><use href="#s" x="1574" y="1447.5"/></g>
<g stroke="#00ff00"><use href="#s" x="1574" y="1449.3"/></g>
<g stroke="#ff0000"><use href="#s" x="1574.1" y="1451.2"/></g>
<g stroke="#00ff00"><use href="#s" x="1574.1" y="1452.9"/><use href="#s" x="1574.1" y="1454.7"/><use href="#s" x="1574.2" y="1456.5"/><use href="#s" x="1574.2" y="1458.4"/><use href="#s" x="1574.3" y="1460.1"/><use href="#s" x="1574.4" y="1461.9"/><use href="#s" x="1574.5" y="1463.8"/></g>
<g stroke="#ff0000"><use href="#s" x="1574.6" y="1465.7"/></g>
<g stroke="#00ff00"><use href="#s" x="1574.7" y="1467.4"/><use href="#s" x="1574.8" y="1469.2"/><use href="#s" x="1574.9" y="1471.1"/><use href="#s" x="1575" y="1473"/><use href="#s" x="1575.1" y="1474.7"/></g>
<g stroke="#ff0000"><use href="#s" x="1575.2" y="1476.4"/><use href="#s" x="1575.3" y="1478.2"/><use href="#s" x="1575.5" y="1480.1"/></g>
<g stroke="#00ff00"><use href="#s" x="1575.6" y="1482"/><use href="#s" x="1575.7" y="1484"/><use href="#s" x="1575.8" y="1485.7"/></g>
<g stroke="#ff0000"><use href="#s" x="1576" y="1487.5"/></g>
<g stroke="#00ff00"><use href="#s" x="1576.2" y="1489.4"/></g>
<g stroke="#ff0000"><use href="#s" x="1576.4" y="1491.3"/></g>
<g stroke="#00ff00"><use href="#s" x="1576.6" y="1493.2"/><use href="#s" x="1576.8" y="1495.3"/></g>
<g stroke="#ff0000"><use href="#s" x="1577" y="1497"/><use href="#s" x="1577.2" y="1498.8"/></g>
<g stroke="#00ff00"><use href="#s" x="1577.4" y="1500.6"/><use href="#s" x="1577.6" y="1502.5"/><use href="#s" x="1577.8" y="1504.5"/></g>
<g stroke="#ff0000"><use href="#s" x="1578" y="1506.5"/></g>
<g stroke="#00ff00"><use href="#s" x="1578.2" y="1508.6"/><use href="#s" x="1578.4" y="1510.4"/><use href="#s" x="1578.6" y="1512.1"/></g>
<g stroke="#ff0000"><use href="#s" x="1578.8" y="1514"/><use href="#s" x="1579" y="1515.8"/></g>
<g stroke="#00ff00"><use href="#s" x="1579.2" y="1517.8"/><use href="#s" x="1579.4" y="1519.8"/><use href="#s" x="1579.6" y="1521.8"/><use href="#s" x="1579.8" y="1524"/><use href="#s" x="1580" y="1526.2"/></g>
<g stroke="#ff0000"><use href="#s" x="1580.1" y="1527.9"/><use href="#s" x="1580.3" y="1529.6"/></g>
<g stroke="#00ff00"><use href="#s" x="1580.4" y="1531.5"/></g>
<g stroke="#ff0000"><use href="#s" x="1580.6" y="1533.3"/><use href="#s" x="1580.8" y="1535.2"/><use href="#s" x="1581.1" y="1537.2"/></g>
<g stroke="#00ff00"><use href="#s" x="1581.5" y="1539.2"/><use href="#s" x="1581.9" y="1541.3"/></g>
<g stroke="#ff0000"><use href="#s" x="1582.3" y="1543.5"/><use href="#s" x="1582.7" y="1545.8"/></g>
<g stroke="#00ff00"><use href="#s" x="1583.1" y="1548.1"/></g>
<g stroke="#ff0000"><use href="#s" x="1583.6" y="1550.5"/></g>
<g stroke="#00ff00"><use href="#s" x="1584" y="1552.2"/><use href="#s" x="1584.3" y="1553.9"/><use href="#s" x="1584.7" y="1555.7"/></g>
<g stroke="#ff0000"><use href="#s" x="1585" y="1557.5"/></g>
<g stroke="#00ff00"><use href="#s" x="1585.4" y="1559.4"/></g>
<g stroke="#ff0000"><use href="#s" x="1585.8" y="1561.3"/><use href="#s" x="1586.2" y="1563.3"/></g>
<g stroke="#00ff00"><use href="#s" x="1586.7" y="1565.3"/><use href="#s" x="1587" y="1566.4"/><use href="#s" x="1587.2" y="1567.4"/><use href="#s" x="1587.5" y="1568.5"/><use href="#s" x="1587.8" y="1569.6"/><use href="#s" x="1588.1" y="1570.8"/></g>
<g stroke="#ff0000"><use href="#s" x="1588.3" y="1571.9"/><use href="#s" x="1588.6" y="1573.1"/></g>
<g stroke="#00ff00"><use href="#s" x="1588.9" y="1574.3"/><use href="#s" x="1589.2" y="1575.5"/></g>
<g stroke="#ff0000"><use href="#s" x="1589.5" y="1576.7"/><use href="#s" x="1589.8" y="1578"/></g>
<g stroke="#00ff00"><use href="#s" x="1590.2" y="1579.2"/><use href="#s" x="1590.8" y="1580.5"/></g>
<g stroke="#ff0000"><use href="#s" x="1591.4" y="1581.9"/><use href="#s" x="1592.1" y="1583.2"/></g>
<g stroke="#0000ff"><use href="#s" x="1592.8" y="1584.6"/><use href="#s" x="1593.5" y="1586.1"/><use href="#s" x="1594.3" y="1587.5"/><use href="#s" x="1595.5" y="1589"/><use href="#s" x="1597.5" y="1590.6"/><use href="#s" x="1599.5" y="1592.1"/><use href="#s" x="1601.5" y="1593.7"/><use href="#s" x="1603.7" y="1595.4"/><use href="#s" x="1605.8" y="1597.1"/><use href="#s" x="1608.1" y="1598.8"/><use href="#s" x="1610.2" y="1600.6"/><use href="#s" x="1612.4" y="1602.4"/><use href="#s" x="1614.6" y="1604.3"/></g>
<g stroke="#ff0000"><use href="#s" x="1616.9" y="1606.3"/></g>
<g stroke="#0000ff"><use href="#s" x="1619.3" y="1608.3"/><use href="#s" x="1621.7" y="1610.4"/><use href="#s" x="1624.6" y="1612.5"/><use href="#s" x="1628.2" y="1614.8"/><use href="#s" x="1632" y="1617.1"/><use href="#s" x="1635.9" y="1619.5"/><use href="#s" x="1639.9" y="1622"/><use href="#s" x="1644" y="1624.6"/><use href="#s" x="1648.2" y="1627.3"/><use href="#s" x="1655.1" y="1630.1"/><use href="#s" x="1666.5" y="1633"/><use href="#s" x="1677.7" y="1636.1"/><use href="#s" x="1688.4" y="1639.4"/><use href="#s" x="1699.2" y="1642.8"/><use href="#s" x="1709.1" y="1646.5"/><use href="#s" x="1713.5" y="1650.3"/><use href="#s" x="1715.4" y="1654.4"/><use href="#s" x="1717.2" y="1658.8"/><use href="#s" x="1718.2" y="1663.5"/><use href="#s" x="1729.9" y="1668.5"/><use href="#s" x="1746.1" y="1674"/><use href="#s" x="1749.8" y="1680.1"/><use href="#s" x="1751.7" y="1686.8"/><use href="#s" x="1752.6" y="1694.2"/><use href="#s" x="1756.3" y="1702.7"/><use href="#s" x="1768.4" y="1712.4"/><use href="#s" x="1778.3" y="1724"/><use href="#s" x="1809.7" y="1738.1"/><use href="#s" x="1853.7" y="1756.4"/><use href="#s" x="1874.5" y="1782.1"/><use href="#s" x="2002" y="1827.1"/></g>
<line x1="1641.1" y1="1358.7" x2="1641.1" y2="1824.8" stroke="#000" stroke-width="7.5"/>
<text x="1562.4" y="1343.6" font-size="34.6" font-weight="bold" fill="#000" textLength="363.8" lengthAdjust="spacing">Electrical power (kW)</text>
<text x="1521.8" y="1872.1" font-size="33" fill="#262626" text-anchor="middle">4000</text>
<text x="1697.3" y="1872.1" font-size="33" fill="#262626" text-anchor="middle">8000</text>
<text x="1874.4" y="1872.1" font-size="33" fill="#262626" text-anchor="middle">12000</text>
<text x="1457.3" y="1374.5" font-size="33" fill="#262626" text-anchor="end">10</text>
<text x="1458.5" y="1359.7" font-size="26" fill="#262626">0</text>
<text x="1449.5" y="1519.9" font-size="33" fill="#262626" text-anchor="end">10</text>
<text x="1450.7" y="1505.1" font-size="26" fill="#262626">-1</text>
<text x="1449.5" y="1666.1" font-size="33" fill="#262626" text-anchor="end">10</text>
<text x="1450.7" y="1651.3" font-size="26" fill="#262626">-2</text>
<text x="1449.5" y="1812" font-size="33" fill="#262626" text-anchor="end">10</text>
<text x="1450.7" y="1797.2" font-size="26" fill="#262626">-3</text>
<text x="1661.5" y="1919.8" font-size="35" fill="#262626" textLength="162.5" lengthAdjust="spacing">EE values</text>
</g>
</svg>
</body></html>
